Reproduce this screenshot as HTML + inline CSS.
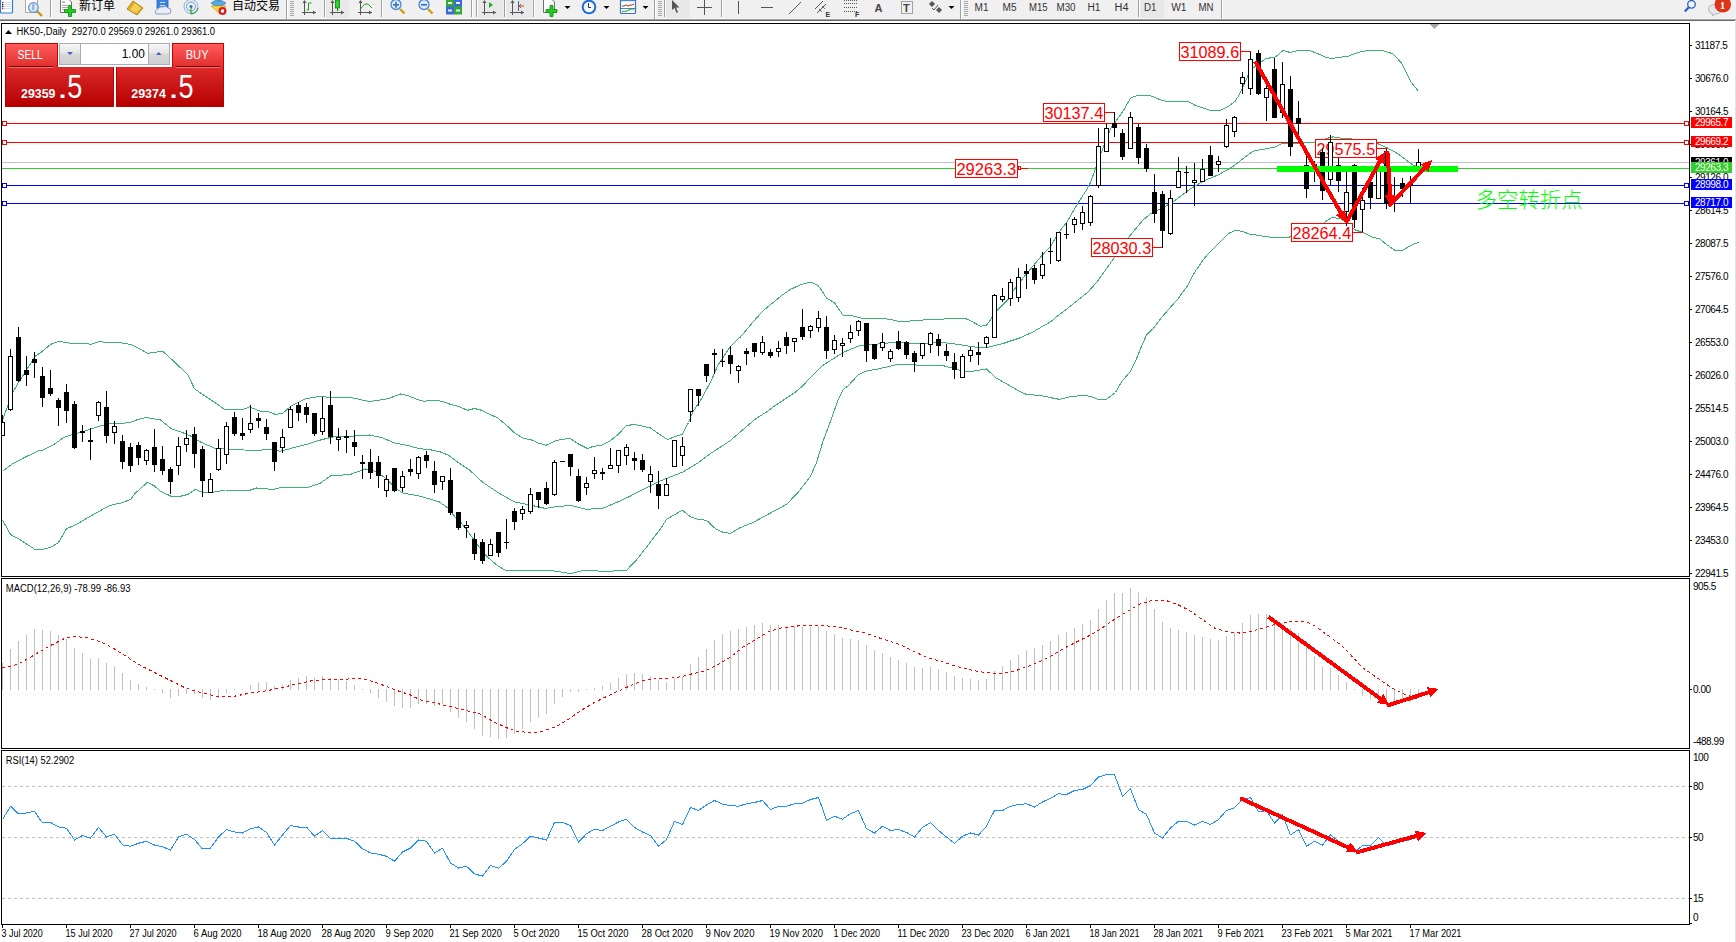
<!DOCTYPE html>
<html><head><meta charset="utf-8"><title>HK50 Daily</title>
<style>
html,body{margin:0;padding:0;background:#fff;}
body{width:1736px;height:942px;overflow:hidden;position:relative;}
svg text{white-space:pre;}
</style></head>
<body>
<svg width="1736" height="942" viewBox="0 0 1736 942" style="position:absolute;left:0;top:0">
<rect x="0" y="0" width="1736" height="19" fill="#f0f0f0"/>
<rect x="0" y="18" width="1736" height="1" fill="#f5f5f5"/>
<rect x="0" y="19" width="1736" height="1" fill="#a4a4a4"/>
<rect x="0" y="20" width="1735" height="1" fill="#6a6a6a"/>
<rect x="0" y="21" width="1736" height="921" fill="#ffffff"/>
<rect x="1735" y="20" width="1" height="922" fill="#e3e3e3"/>
<rect x="0.5" y="-1" width="12" height="14" fill="#fff" stroke="#3a78c8" stroke-width="1.2" rx="1"/>
<rect x="2" y="1.7999999999999998" width="1.4" height="1.4" fill="#e82020"/><rect x="4" y="2.1" width="7" height="0.8" fill="#c4d6f4"/>
<rect x="2" y="3.8000000000000003" width="1.4" height="1.4" fill="#202020"/><rect x="4" y="4.1000000000000005" width="7" height="0.8" fill="#c4d6f4"/>
<rect x="2" y="5.800000000000001" width="1.4" height="1.4" fill="#202020"/><rect x="4" y="6.1000000000000005" width="7" height="0.8" fill="#c4d6f4"/>
<rect x="2" y="7.800000000000001" width="1.4" height="1.4" fill="#e82020"/><rect x="4" y="8.1" width="7" height="0.8" fill="#c4d6f4"/>
<rect x="25.5" y="-1" width="12" height="13.5" fill="#fff" stroke="#b0a890" stroke-width="1"/>
<line x1="37.5" y1="11.5" x2="42" y2="16" stroke="#c89a10" stroke-width="2.4"/>
<circle cx="33.4" cy="7.5" r="4.8" fill="#dcecf8" stroke="#5a8ed8" stroke-width="1.2"/>
<rect x="32" y="4" width="2.5" height="6" fill="#a0b4c8"/>
<rect x="50" y="0" width="1" height="17" fill="#a0a0a0"/><rect x="51" y="0" width="1" height="17" fill="#ffffff"/>
<path d="M60.5,-1 h8 l3,3 v10.5 h-11 z" fill="#fff" stroke="#707070" stroke-width="1"/>
<rect x="62" y="1.5" width="3" height="1.2" fill="#909090"/><rect x="62" y="5" width="6" height="0.8" fill="#909090"/><rect x="62" y="7" width="6" height="0.8" fill="#909090"/><rect x="62" y="9" width="3" height="0.8" fill="#909090"/>
<path d="M68.5,5.5 h3 v4 h4 v3 h-4 v4 h-3 v-4 h-4 v-3 h4 z" fill="#22cc22" stroke="#0a8a0a" stroke-width="0.8"/>
<text x="79" y="10" font-size="12" fill="#000" font-family="'Noto Sans CJK SC', sans-serif">新订单</text>
<path d="M127,9 L133,1 L143,8 L137,15 Z" fill="#e0b020" stroke="#a07010" stroke-width="0.8"/>
<path d="M130,10 L135,3 L141,8 L136,13 Z" fill="#f4d050"/>
<rect x="157" y="-1" width="11" height="9" fill="#3b82e0" stroke="#2060b0" stroke-width="0.8"/>
<rect x="160" y="2" width="5" height="1" fill="#cfe0ff"/><rect x="160" y="5" width="5" height="1" fill="#cfe0ff"/>
<path d="M156,14 q-2,-4 2,-5 q1,-3 5,-2 q3,-2 5,1 q3,0 3,3 q0,3 -3,3 z" fill="#e8eef8" stroke="#7a8aa8" stroke-width="0.8"/>
<circle cx="191" cy="6.5" r="7" fill="none" stroke="#7aa6e0" stroke-width="0.9"/>
<circle cx="191" cy="6.5" r="4.5" fill="none" stroke="#5a8ed8" stroke-width="0.9"/>
<circle cx="191" cy="6.5" r="1.6" fill="#2a6ad0"/>
<path d="M191,6.5 L191,14 M191,14 Q197,13 198,8" fill="none" stroke="#30a030" stroke-width="1.2"/>
<path d="M211,3 q7,-6 15,0 q-2,3 -7.5,3 q-5.5,0 -7.5,-3 z" fill="#5aa8e0" stroke="#3070b0" stroke-width="0.6"/>
<rect x="217" y="-2" width="3" height="4" fill="#4a90d8"/>
<path d="M211,6 L226,6 L220,14 Z" fill="#f8d840" stroke="#c09010" stroke-width="0.6"/>
<circle cx="222.5" cy="11" r="4" fill="#d82020"/><rect x="221" y="9.5" width="3" height="3" fill="#fff"/>
<text x="232" y="10" font-size="12" fill="#000" font-family="'Noto Sans CJK SC', sans-serif">自动交易</text>
<rect x="286" y="0" width="1" height="19" fill="#a0a0a0"/><rect x="287" y="0" width="1" height="19" fill="#ffffff"/>
<rect x="290" y="1" width="4" height="1" fill="#a8a8a8"/>
<rect x="290" y="3" width="4" height="1" fill="#a8a8a8"/>
<rect x="290" y="5" width="4" height="1" fill="#a8a8a8"/>
<rect x="290" y="7" width="4" height="1" fill="#a8a8a8"/>
<rect x="290" y="9" width="4" height="1" fill="#a8a8a8"/>
<rect x="290" y="11" width="4" height="1" fill="#a8a8a8"/>
<rect x="290" y="13" width="4" height="1" fill="#a8a8a8"/>
<rect x="290" y="15" width="4" height="1" fill="#a8a8a8"/>
<rect x="304" y="1" width="1" height="14" fill="#555"/><rect x="302" y="12" width="14" height="1" fill="#555"/>
<polygon points="304.5,0 302.5,3 306.5,3" fill="#555"/><polygon points="316,12.5 313,10.5 313,14.5" fill="#555"/>
<path d="M306.5,10 h2 v-7 h3" fill="none" stroke="#20a020" stroke-width="1"/>
<rect x="324" y="0" width="1" height="17" fill="#a0a0a0"/><rect x="325" y="0" width="1" height="17" fill="#ffffff"/>
<rect x="326" y="0" width="23" height="18" fill="#e8e8e8"/>
<rect x="332" y="1" width="1" height="14" fill="#555"/><rect x="330" y="12" width="14" height="1" fill="#555"/>
<polygon points="332.5,0 330.5,3 334.5,3" fill="#555"/><polygon points="344,12.5 341,10.5 341,14.5" fill="#555"/>
<rect x="335.5" y="0" width="4" height="8" fill="#30d030" stroke="#108010" stroke-width="0.8"/><rect x="337" y="8" width="1" height="3" fill="#108010"/><rect x="337" y="-2" width="1" height="2" fill="#108010"/>
<rect x="360" y="1" width="1" height="14" fill="#555"/><rect x="358" y="12" width="14" height="1" fill="#555"/>
<polygon points="360.5,0 358.5,3 362.5,3" fill="#555"/><polygon points="372,12.5 369,10.5 369,14.5" fill="#555"/>
<path d="M360,10 Q365,1 369,5 L372,8" fill="none" stroke="#20a020" stroke-width="1"/>
<rect x="381" y="0" width="1" height="17" fill="#a0a0a0"/><rect x="382" y="0" width="1" height="17" fill="#ffffff"/>
<line x1="400" y1="9" x2="404.5" y2="13.5" stroke="#c8a010" stroke-width="2.4"/>
<circle cx="396" cy="4.5" r="5" fill="#dcecfa" stroke="#4a86d0" stroke-width="1.3"/>
<rect x="393" y="4" width="6" height="1.6" fill="#3a70c0"/>
<rect x="395.2" y="1.8" width="1.6" height="6" fill="#3a70c0"/>
<line x1="428" y1="9" x2="432.5" y2="13.5" stroke="#c8a010" stroke-width="2.4"/>
<circle cx="424" cy="4.5" r="5" fill="#dcecfa" stroke="#4a86d0" stroke-width="1.3"/>
<rect x="421" y="4" width="6" height="1.6" fill="#3a70c0"/>
<rect x="446" y="-1" width="8" height="8" fill="#34a834"/><rect x="448" y="2" width="4" height="2" fill="#e8f0e8"/>
<rect x="454" y="-1" width="8" height="8" fill="#3a6ad8"/><rect x="456" y="2" width="4" height="2" fill="#e8f0e8"/>
<rect x="446" y="6.5" width="8" height="8" fill="#3a6ad8"/><rect x="448" y="9.5" width="4" height="2" fill="#e8f0e8"/>
<rect x="454" y="6.5" width="8" height="8" fill="#34a834"/><rect x="456" y="9.5" width="4" height="2" fill="#e8f0e8"/>
<rect x="471" y="0" width="1" height="17" fill="#a0a0a0"/><rect x="472" y="0" width="1" height="17" fill="#ffffff"/>
<rect x="476" y="0" width="1" height="17" fill="#a0a0a0"/><rect x="477" y="0" width="1" height="17" fill="#ffffff"/>
<rect x="478" y="0" width="25" height="18" fill="#e8e8e8"/>
<rect x="484" y="1" width="1" height="14" fill="#555"/><rect x="482" y="12" width="14" height="1" fill="#555"/>
<polygon points="484.5,0 482.5,3 486.5,3" fill="#555"/><polygon points="496,12.5 493,10.5 493,14.5" fill="#555"/>
<polygon points="489,2 489,8 493,5" fill="#20b020"/>
<rect x="504" y="0" width="1" height="17" fill="#a0a0a0"/><rect x="505" y="0" width="1" height="17" fill="#ffffff"/>
<rect x="506" y="0" width="26" height="18" fill="#e8e8e8"/>
<rect x="512" y="1" width="1" height="14" fill="#555"/><rect x="510" y="12" width="14" height="1" fill="#555"/>
<polygon points="512.5,0 510.5,3 514.5,3" fill="#555"/><polygon points="524,12.5 521,10.5 521,14.5" fill="#555"/>
<rect x="518" y="1" width="1" height="10" fill="#2070c0"/><path d="M524,6 h-4 M521,4 l-2,2 l2,2" stroke="#d04010" stroke-width="1" fill="none"/>
<rect x="533" y="0" width="1" height="17" fill="#a0a0a0"/><rect x="534" y="0" width="1" height="17" fill="#ffffff"/>
<path d="M543.5,-1 h8 l3,3 v10.5 h-11 z" fill="#fff" stroke="#707070" stroke-width="1"/>
<path d="M550,5.5 h3 v4 h4 v3 h-4 v4 h-3 v-4 h-4 v-3 h4 z" fill="#22cc22" stroke="#0a8a0a" stroke-width="0.8"/>
<polygon points="564.5,6 570.5,6 567.5,9" fill="#000"/>
<circle cx="589" cy="7" r="7.3" fill="#1e6fd8"/><circle cx="589" cy="7" r="5.3" fill="#f6f8fc"/><path d="M588.5,3 v4.5 h2.5" stroke="#333" stroke-width="1" fill="none"/>
<polygon points="603.5,6 609.5,6 606.5,9" fill="#000"/>
<rect x="620.5" y="-1.5" width="15" height="15" fill="#fff" stroke="#3a70c8" stroke-width="1.2" rx="1"/><rect x="621" y="-1" width="14" height="2.2" fill="#4a86d8"/>
<path d="M622,6 l2,0 l2,-1 l2,1 l2,-1 l2,0 l2,-1" stroke="#b02a10" stroke-width="1" fill="none"/><rect x="621" y="8" width="14" height="0.9" fill="#3a70c8"/><path d="M622,12 l2,-1 l2,0.5 l2,-1.5 l2,0 l2,-1.5 l2,2" stroke="#18a018" stroke-width="1" fill="none"/>
<polygon points="642.5,6 648.5,6 645.5,9" fill="#000"/>
<rect x="654" y="0" width="1" height="19" fill="#a0a0a0"/><rect x="655" y="0" width="1" height="19" fill="#ffffff"/>
<rect x="658" y="1" width="4" height="1" fill="#a8a8a8"/>
<rect x="658" y="3" width="4" height="1" fill="#a8a8a8"/>
<rect x="658" y="5" width="4" height="1" fill="#a8a8a8"/>
<rect x="658" y="7" width="4" height="1" fill="#a8a8a8"/>
<rect x="658" y="9" width="4" height="1" fill="#a8a8a8"/>
<rect x="658" y="11" width="4" height="1" fill="#a8a8a8"/>
<rect x="658" y="13" width="4" height="1" fill="#a8a8a8"/>
<rect x="658" y="15" width="4" height="1" fill="#a8a8a8"/>
<rect x="664" y="0" width="1" height="17" fill="#a0a0a0"/><rect x="665" y="0" width="1" height="17" fill="#ffffff"/>
<rect x="666" y="0" width="24" height="18" fill="#e8e8e8"/>
<path d="M672,0 L672,10 L674.5,8 L676.5,13 L678,12.3 L676,7.5 L679.5,7.5 Z" fill="#555"/>
<rect x="697" y="7" width="15" height="1" fill="#555"/><rect x="704" y="0" width="1" height="15" fill="#555"/>
<rect x="721" y="0" width="1" height="17" fill="#a0a0a0"/><rect x="722" y="0" width="1" height="17" fill="#ffffff"/>
<rect x="738" y="1" width="1" height="13" fill="#555"/>
<rect x="761" y="7" width="12" height="1" fill="#555"/>
<line x1="789" y1="14" x2="801" y2="2" stroke="#555" stroke-width="1"/>
<line x1="815" y1="9" x2="823" y2="1" stroke="#555" stroke-width="1"/><line x1="817" y1="13" x2="826" y2="4" stroke="#555" stroke-width="1"/><line x1="819" y1="9" x2="822" y2="12" stroke="#555" stroke-width="0.8"/><line x1="822" y1="6" x2="825" y2="9" stroke="#555" stroke-width="0.8"/>
<text x="825.5" y="16.5" font-size="7" font-weight="bold" fill="#333" font-family="'Liberation Sans', sans-serif">E</text>
<line x1="844" y1="0.5" x2="857" y2="0.5" stroke="#555" stroke-width="1" stroke-dasharray="1,1"/>
<line x1="844" y1="3.5" x2="857" y2="3.5" stroke="#555" stroke-width="1" stroke-dasharray="1,1"/>
<line x1="844" y1="7.5" x2="857" y2="7.5" stroke="#555" stroke-width="1" stroke-dasharray="1,1"/>
<line x1="844" y1="11.5" x2="857" y2="11.5" stroke="#555" stroke-width="1" stroke-dasharray="1,1"/>
<text x="855" y="16.5" font-size="7" font-weight="bold" fill="#333" font-family="'Liberation Sans', sans-serif">F</text>
<text x="874.5" y="12" font-size="11" font-weight="bold" fill="#444" font-family="'Liberation Sans', sans-serif">A</text>
<rect x="901.5" y="1.5" width="11" height="12" fill="none" stroke="#555" stroke-width="1" stroke-dasharray="1,1"/>
<text x="903" y="11.5" font-size="11" font-weight="bold" fill="#444" font-family="'Liberation Sans', sans-serif">T</text>
<polygon points="929,4 932,1 935,4 932,7" fill="#555"/><polygon points="936,10 939,7 942,10 939,13" fill="#555"/><path d="M932,8 l2,2 l4,-5" stroke="#555" stroke-width="1" fill="none"/>
<polygon points="948.5,6 954.5,6 951.5,9" fill="#000"/>
<rect x="960" y="0" width="1" height="19" fill="#a0a0a0"/><rect x="961" y="0" width="1" height="19" fill="#ffffff"/>
<rect x="964" y="1" width="4" height="1" fill="#a8a8a8"/>
<rect x="964" y="3" width="4" height="1" fill="#a8a8a8"/>
<rect x="964" y="5" width="4" height="1" fill="#a8a8a8"/>
<rect x="964" y="7" width="4" height="1" fill="#a8a8a8"/>
<rect x="964" y="9" width="4" height="1" fill="#a8a8a8"/>
<rect x="964" y="11" width="4" height="1" fill="#a8a8a8"/>
<rect x="964" y="13" width="4" height="1" fill="#a8a8a8"/>
<rect x="964" y="15" width="4" height="1" fill="#a8a8a8"/>
<text x="974.5" y="11" font-size="10" fill="#333" textLength="14" lengthAdjust="spacingAndGlyphs" font-family="'Liberation Sans', sans-serif">M1</text>
<text x="1002.5" y="11" font-size="10" fill="#333" textLength="14" lengthAdjust="spacingAndGlyphs" font-family="'Liberation Sans', sans-serif">M5</text>
<text x="1029.0" y="11" font-size="10" fill="#333" textLength="18.5" lengthAdjust="spacingAndGlyphs" font-family="'Liberation Sans', sans-serif">M15</text>
<text x="1056.5" y="11" font-size="10" fill="#333" textLength="19" lengthAdjust="spacingAndGlyphs" font-family="'Liberation Sans', sans-serif">M30</text>
<text x="1087.5" y="11" font-size="10" fill="#333" textLength="13" lengthAdjust="spacingAndGlyphs" font-family="'Liberation Sans', sans-serif">H1</text>
<text x="1114.5" y="11" font-size="10" fill="#333" textLength="14" lengthAdjust="spacingAndGlyphs" font-family="'Liberation Sans', sans-serif">H4</text>
<text x="1171.2" y="11" font-size="10" fill="#333" textLength="15.3" lengthAdjust="spacingAndGlyphs" font-family="'Liberation Sans', sans-serif">W1</text>
<text x="1198.5" y="11" font-size="10" fill="#333" textLength="15" lengthAdjust="spacingAndGlyphs" font-family="'Liberation Sans', sans-serif">MN</text>
<rect x="1138" y="0" width="1" height="17" fill="#a0a0a0"/><rect x="1139" y="0" width="1" height="17" fill="#ffffff"/>
<rect x="1140" y="0" width="24" height="18" fill="#e8e8e8"/>
<text x="1144" y="11" font-size="10" fill="#333" textLength="12.5" lengthAdjust="spacingAndGlyphs" font-family="'Liberation Sans', sans-serif">D1</text>
<rect x="1221" y="0" width="1" height="19" fill="#a0a0a0"/><rect x="1222" y="0" width="1" height="19" fill="#ffffff"/>
<circle cx="1691.5" cy="4.3" r="3.8" fill="#f4f6fc" stroke="#2a5ed0" stroke-width="1.3"/><line x1="1688.8" y1="7.3" x2="1684.8" y2="11.6" stroke="#2a5ed0" stroke-width="2.2"/>
<path d="M1708.5,9.5 q0,-5 6.5,-5 q6.5,0 6.5,5 q0,4.5 -6.5,4.5 l-2.5,2 l0,-2.2 q-4,-1 -4,-4.3 z" fill="#e6e6ec" stroke="#a8a8a8" stroke-width="0.8"/>
<circle cx="1722.8" cy="4.4" r="8.2" fill="#de3418"/>
<text x="1722.6" y="9.2" font-size="11" font-weight="bold" fill="#fff" text-anchor="middle" font-family="'Liberation Serif', serif">1</text>
<rect x="1" y="23" width="1689" height="1" fill="#000"/>
<rect x="1" y="576" width="1689" height="1" fill="#000"/>
<rect x="1" y="23" width="1" height="554" fill="#000"/>
<rect x="1689" y="23" width="1" height="554" fill="#000"/>
<rect x="1" y="578" width="1689" height="1" fill="#000"/>
<rect x="1" y="748" width="1689" height="1" fill="#000"/>
<rect x="1" y="578" width="1" height="171" fill="#000"/>
<rect x="1689" y="578" width="1" height="171" fill="#000"/>
<rect x="1" y="750" width="1689" height="1" fill="#000"/>
<rect x="1" y="924" width="1689" height="1" fill="#000"/>
<rect x="1" y="750" width="1" height="175" fill="#000"/>
<rect x="1689" y="750" width="1" height="175" fill="#000"/>
<svg x="2" y="24" width="1687" height="552" overflow="hidden"><g transform="translate(-2,-24)">
<rect x="2" y="123" width="1687" height="1" fill="#ff0000"/>
<rect x="2" y="142" width="1687" height="1" fill="#ff0000"/>
<rect x="2" y="162" width="1687" height="1" fill="#c0c0c0"/>
<rect x="2" y="168" width="1687" height="1" fill="#32cd32"/>
<rect x="2" y="185" width="1687" height="1" fill="#0000ff"/>
<rect x="2" y="203" width="1687" height="1" fill="#0000ff"/>
<rect x="2" y="121" width="5" height="5" fill="#ff0000"/>
<rect x="3" y="122" width="3" height="3" fill="#fff"/>
<rect x="1684" y="121" width="5" height="5" fill="#ff0000"/>
<rect x="1685" y="122" width="3" height="3" fill="#fff"/>
<rect x="2" y="140" width="5" height="5" fill="#ff0000"/>
<rect x="3" y="141" width="3" height="3" fill="#fff"/>
<rect x="1684" y="140" width="5" height="5" fill="#ff0000"/>
<rect x="1685" y="141" width="3" height="3" fill="#fff"/>
<rect x="2" y="183" width="5" height="5" fill="#0000ff"/>
<rect x="3" y="184" width="3" height="3" fill="#fff"/>
<rect x="1684" y="183" width="5" height="5" fill="#0000ff"/>
<rect x="1685" y="184" width="3" height="3" fill="#fff"/>
<rect x="2" y="201" width="5" height="5" fill="#0000ff"/>
<rect x="3" y="202" width="3" height="3" fill="#fff"/>
<rect x="1684" y="201" width="5" height="5" fill="#0000ff"/>
<rect x="1685" y="202" width="3" height="3" fill="#fff"/>
<polyline points="2.50,420.00 8.00,405.00 13.00,391.90 19.25,381.25 26.50,370.00 35.50,356.00 41.50,352.00 50.50,344.40 58.00,341.50 63.00,342.00 71.50,343.50 88.00,343.75 90.50,344.40 99.50,341.50 104.50,342.25 119.50,342.50 130.50,344.40 138.00,348.00 148.00,353.50 151.50,352.50 163.00,351.50 174.50,362.00 188.00,375.00 194.50,388.75 200.50,393.00 213.00,401.25 225.50,410.00 243.00,409.40 249.50,406.90 259.50,411.00 268.00,411.50 275.50,414.40 283.00,413.10 291.50,405.60 305.50,398.75 320.50,396.25 333.00,398.00 350.50,397.50 369.50,401.50 388.00,398.75 400.50,394.00 408.00,395.60 419.25,400.25 424.25,401.25 430.50,400.25 438.00,400.60 443.00,401.50 450.50,404.40 458.00,406.25 467.50,410.25 474.50,408.50 480.50,410.00 488.00,413.50 498.00,418.00 509.50,428.00 515.50,433.75 523.00,438.00 531.50,440.00 538.00,443.00 546.10,445.25 554.50,441.25 561.50,439.40 570.50,438.50 578.00,443.75 587.50,448.50 593.00,446.50 601.50,445.25 609.50,441.25 617.50,435.00 626.50,425.60 634.50,424.40 650.50,428.00 659.50,434.40 667.50,439.40 673.00,437.50 682.50,434.00 688.50,422.50 692.50,412.50 701.50,398.75 711.50,380.00 718.00,365.00 730.50,346.25 740.50,336.90 750.50,325.00 759.25,315.00 765.50,308.75 775.50,300.60 781.50,295.60 790.50,289.40 799.25,285.25 808.50,282.50 811.50,282.25 818.00,285.60 821.50,290.25 826.50,298.00 834.50,302.75 843.00,315.25 853.00,316.00 865.50,319.00 878.00,318.00 890.50,319.40 898.00,321.25 910.50,321.00 926.50,319.75 950.50,318.75 964.50,318.50 968.00,319.40 980.50,326.25 986.50,325.25 993.00,316.25 998.00,309.40 1008.00,299.40 1013.00,291.00 1025.50,275.00 1038.00,260.00 1050.50,246.25 1060.50,230.00 1066.50,222.75 1078.00,203.00 1086.50,190.00 1090.50,182.50 1101.50,151.90 1110.50,128.75 1123.00,111.25 1130.50,98.10 1138.00,95.25 1149.50,95.25 1161.50,100.25 1168.00,101.50 1188.00,101.25 1195.50,105.60 1210.50,110.60 1219.50,110.60 1228.00,106.60 1235.50,100.90 1240.50,92.50 1245.50,81.25 1250.50,70.00 1255.50,66.25 1265.50,58.75 1275.50,56.90 1283.00,50.60 1290.50,52.50 1298.00,50.40 1309.50,50.60 1316.50,53.10 1325.50,57.25 1331.50,58.50 1340.50,57.25 1348.00,56.25 1358.00,52.50 1368.00,50.25 1381.50,50.25 1393.00,53.75 1401.50,63.10 1410.50,81.25 1418.50,91.50" fill="none" stroke="#3cb371" stroke-width="1" shape-rendering="crispEdges"/>
<polyline points="2.50,471.25 11.50,464.40 25.50,457.00 38.00,451.00 43.00,450.00 53.00,445.00 63.00,438.00 69.25,435.40 78.00,433.00 88.00,430.00 101.50,425.60 110.50,423.75 125.50,423.00 131.50,422.00 138.00,419.40 146.50,417.50 160.50,420.00 171.50,428.75 183.00,432.75 190.50,436.00 200.50,442.00 214.25,448.00 231.50,449.40 244.25,450.00 256.50,450.40 269.50,449.40 280.50,451.25 290.50,448.50 306.50,444.40 320.50,440.00 333.00,436.90 350.50,436.25 369.50,435.00 381.50,437.50 394.50,443.00 408.00,445.60 419.25,448.50 431.50,450.00 440.50,452.00 448.00,455.00 456.50,461.25 469.50,470.00 483.00,482.50 498.00,492.50 514.25,501.90 526.50,504.40 539.50,507.00 545.50,508.50 554.50,507.00 570.50,505.25 586.50,509.40 603.50,508.00 616.50,502.50 628.50,497.00 639.50,491.25 658.00,481.90 683.00,471.90 698.00,463.00 710.50,453.50 729.50,441.25 745.50,427.50 755.50,419.00 766.50,412.00 774.50,406.00 785.50,398.75 795.50,392.00 801.50,387.00 813.00,375.00 821.50,366.25 834.50,358.00 843.00,352.50 858.00,346.25 865.50,345.00 878.00,344.00 896.50,342.25 921.50,343.75 940.50,342.25 958.00,344.40 978.00,347.50 989.50,347.00 1004.50,343.00 1019.50,338.00 1033.00,332.00 1040.50,327.50 1050.50,321.90 1058.00,315.60 1065.50,310.00 1076.50,301.25 1088.00,292.00 1096.50,282.50 1105.50,270.00 1114.50,257.50 1129.50,236.25 1143.00,220.00 1150.50,213.75 1160.50,208.75 1165.50,206.25 1175.50,200.00 1190.50,188.75 1203.00,181.25 1218.00,175.00 1231.50,167.50 1243.00,158.75 1253.00,151.25 1260.50,149.75 1274.50,147.25 1283.00,143.00 1293.00,144.00 1301.50,143.00 1313.00,142.75 1326.50,138.50 1333.00,136.90 1343.00,138.50 1360.50,139.50 1378.00,143.75 1386.50,147.50 1398.00,153.75 1405.50,159.40 1413.00,165.00 1418.50,166.25" fill="none" stroke="#3cb371" stroke-width="1" shape-rendering="crispEdges"/>
<polyline points="2.50,520.00 10.50,534.40 20.50,540.00 34.25,549.00 43.00,549.40 51.50,546.90 58.50,542.50 66.50,528.75 76.50,524.40 88.00,517.50 100.50,510.60 109.50,505.60 123.00,502.50 130.50,499.40 135.50,493.00 147.50,482.25 154.50,486.00 160.50,491.25 171.10,496.25 179.50,496.50 188.00,494.40 195.50,489.40 203.00,492.50 208.00,493.00 225.50,490.00 250.50,490.00 256.50,488.00 273.00,489.40 281.50,487.50 306.50,488.00 320.50,483.00 330.50,476.00 350.50,474.40 365.50,469.00 375.50,471.25 384.50,477.50 398.00,490.00 403.00,493.00 420.50,496.25 439.50,502.00 448.00,508.00 455.50,517.50 461.50,523.00 470.50,535.00 479.50,547.50 486.50,556.25 498.00,566.00 506.50,571.00 526.50,570.60 551.50,570.60 570.50,573.50 583.00,570.60 608.00,571.25 626.50,570.40 637.50,558.75 654.25,537.00 660.50,528.75 666.50,519.40 673.00,515.60 682.50,510.25 690.50,516.90 698.00,519.40 706.50,520.25 715.50,528.75 723.00,532.25 730.50,533.50 739.50,528.00 753.00,522.50 770.50,513.00 786.50,504.40 798.00,492.50 810.50,476.25 816.50,462.50 823.00,441.25 830.50,421.25 838.00,400.00 843.00,389.75 848.00,386.00 858.00,375.00 865.50,371.25 878.00,369.00 898.00,364.40 909.50,364.40 925.50,366.00 943.00,365.60 957.50,369.40 965.50,372.00 974.50,371.00 986.50,369.00 995.50,377.50 1020.50,391.90 1026.50,394.40 1040.50,395.60 1048.00,397.10 1059.50,399.40 1071.50,396.50 1083.00,395.40 1090.50,396.25 1098.00,399.40 1106.50,399.40 1115.50,392.50 1121.50,381.90 1130.50,371.25 1135.50,361.25 1140.50,348.75 1146.50,335.00 1153.00,328.75 1161.50,317.50 1178.00,298.75 1188.00,285.00 1194.50,272.50 1200.50,263.75 1205.50,256.90 1215.50,246.25 1228.00,233.75 1235.50,230.25 1241.50,231.25 1250.50,234.40 1260.50,235.60 1266.50,236.90 1285.50,237.75 1300.50,235.00 1315.50,228.00 1324.50,222.50 1331.50,217.50 1340.50,218.50 1348.00,223.75 1355.50,230.00 1363.00,232.50 1373.00,237.50 1379.50,238.75 1385.50,243.75 1394.50,250.00 1403.00,250.00 1410.50,245.60 1418.50,242.25" fill="none" stroke="#3cb371" stroke-width="1" shape-rendering="crispEdges"/>
<rect x="1241" y="51" width="10" height="1" fill="#ff0000"/>
<rect x="1105" y="112" width="9" height="1" fill="#ff0000"/>
<rect x="1153" y="247" width="10" height="1" fill="#ff0000"/>
<rect x="1353" y="232" width="10" height="1" fill="#ff0000"/>
<rect x="1377" y="148" width="10" height="1" fill="#ff0000"/>
<rect x="1018" y="166" width="3" height="4" fill="#ff0000"/>
<rect x="1019" y="167" width="1" height="2" fill="#fff"/>
<rect x="1021" y="168" width="7" height="1" fill="#ff0000"/>
<rect x="1179.5" y="42.5" width="61" height="18" fill="#fff" stroke="#ff0000" stroke-width="1" shape-rendering="crispEdges"/>
<text x="1180.4" y="57.6" font-size="16.5" fill="#ff0000" textLength="58.8" lengthAdjust="spacingAndGlyphs" font-family="'Liberation Sans', 'Noto Sans CJK SC', sans-serif">31089.6</text>
<rect x="1043.5" y="103.5" width="61" height="18" fill="#fff" stroke="#ff0000" stroke-width="1" shape-rendering="crispEdges"/>
<text x="1044.4" y="118.6" font-size="16.5" fill="#ff0000" textLength="58.8" lengthAdjust="spacingAndGlyphs" font-family="'Liberation Sans', 'Noto Sans CJK SC', sans-serif">30137.4</text>
<rect x="955.5" y="159.5" width="62" height="18" fill="#fff" stroke="#ff0000" stroke-width="1" shape-rendering="crispEdges"/>
<text x="956.4" y="174.6" font-size="16.5" fill="#ff0000" textLength="59.8" lengthAdjust="spacingAndGlyphs" font-family="'Liberation Sans', 'Noto Sans CJK SC', sans-serif">29263.3</text>
<rect x="1091.5" y="238.5" width="61" height="18" fill="#fff" stroke="#ff0000" stroke-width="1" shape-rendering="crispEdges"/>
<text x="1092.4" y="253.6" font-size="16.5" fill="#ff0000" textLength="58.8" lengthAdjust="spacingAndGlyphs" font-family="'Liberation Sans', 'Noto Sans CJK SC', sans-serif">28030.3</text>
<rect x="1291.5" y="223.5" width="61" height="18" fill="#fff" stroke="#ff0000" stroke-width="1" shape-rendering="crispEdges"/>
<text x="1292.4" y="238.6" font-size="16.5" fill="#ff0000" textLength="58.8" lengthAdjust="spacingAndGlyphs" font-family="'Liberation Sans', 'Noto Sans CJK SC', sans-serif">28264.4</text>
<rect x="1315.5" y="139.5" width="61" height="18" fill="#fff" stroke="#ff0000" stroke-width="1" shape-rendering="crispEdges"/>
<text x="1316.4" y="154.6" font-size="16.5" fill="#ff0000" textLength="58.8" lengthAdjust="spacingAndGlyphs" font-family="'Liberation Sans', 'Noto Sans CJK SC', sans-serif">29575.5</text>
<rect x="2" y="415" width="1" height="21" fill="#000"/>
<rect x="0" y="422" width="5" height="14" fill="#000"/>
<rect x="1" y="423" width="3" height="12" fill="#fff"/>
<rect x="10" y="349" width="1" height="62" fill="#000"/>
<rect x="8" y="356" width="5" height="54" fill="#000"/>
<rect x="9" y="357" width="3" height="52" fill="#fff"/>
<rect x="18" y="327" width="1" height="55" fill="#000"/>
<rect x="16" y="337" width="5" height="44" fill="#000"/>
<rect x="26" y="356" width="1" height="30" fill="#000"/>
<rect x="24" y="370" width="5" height="5" fill="#000"/>
<rect x="34" y="352" width="1" height="26" fill="#000"/>
<rect x="32" y="359" width="5" height="4" fill="#000"/>
<rect x="42" y="367" width="1" height="40" fill="#000"/>
<rect x="40" y="376" width="5" height="22" fill="#000"/>
<rect x="50" y="370" width="1" height="26" fill="#000"/>
<rect x="48" y="388" width="5" height="6" fill="#000"/>
<rect x="58" y="398" width="1" height="28" fill="#000"/>
<rect x="56" y="400" width="5" height="8" fill="#000"/>
<rect x="66" y="384" width="1" height="39" fill="#000"/>
<rect x="64" y="392" width="5" height="19" fill="#000"/>
<rect x="74" y="401" width="1" height="48" fill="#000"/>
<rect x="72" y="404" width="5" height="44" fill="#000"/>
<rect x="82" y="425" width="1" height="17" fill="#000"/>
<rect x="80" y="431" width="5" height="2" fill="#000"/>
<rect x="90" y="428" width="1" height="32" fill="#000"/>
<rect x="88" y="440" width="5" height="2" fill="#000"/>
<rect x="98" y="401" width="1" height="20" fill="#000"/>
<rect x="96" y="402" width="5" height="14" fill="#000"/>
<rect x="97" y="403" width="3" height="12" fill="#fff"/>
<rect x="106" y="391" width="1" height="52" fill="#000"/>
<rect x="104" y="407" width="5" height="29" fill="#000"/>
<rect x="114" y="421" width="1" height="23" fill="#000"/>
<rect x="112" y="426" width="5" height="7" fill="#000"/>
<rect x="113" y="427" width="3" height="5" fill="#fff"/>
<rect x="122" y="435" width="1" height="34" fill="#000"/>
<rect x="120" y="441" width="5" height="21" fill="#000"/>
<rect x="130" y="443" width="1" height="29" fill="#000"/>
<rect x="128" y="447" width="5" height="19" fill="#000"/>
<rect x="138" y="442" width="1" height="23" fill="#000"/>
<rect x="136" y="445" width="5" height="13" fill="#000"/>
<rect x="146" y="449" width="1" height="16" fill="#000"/>
<rect x="144" y="450" width="5" height="11" fill="#000"/>
<rect x="145" y="451" width="3" height="9" fill="#fff"/>
<rect x="154" y="429" width="1" height="43" fill="#000"/>
<rect x="152" y="447" width="5" height="18" fill="#000"/>
<rect x="162" y="446" width="1" height="29" fill="#000"/>
<rect x="160" y="459" width="5" height="12" fill="#000"/>
<rect x="170" y="467" width="1" height="27" fill="#000"/>
<rect x="168" y="469" width="5" height="13" fill="#000"/>
<rect x="178" y="437" width="1" height="38" fill="#000"/>
<rect x="176" y="446" width="5" height="20" fill="#000"/>
<rect x="177" y="447" width="3" height="18" fill="#fff"/>
<rect x="186" y="430" width="1" height="22" fill="#000"/>
<rect x="184" y="438" width="5" height="7" fill="#000"/>
<rect x="185" y="439" width="3" height="5" fill="#fff"/>
<rect x="194" y="427" width="1" height="41" fill="#000"/>
<rect x="192" y="434" width="5" height="20" fill="#000"/>
<rect x="202" y="446" width="1" height="51" fill="#000"/>
<rect x="200" y="449" width="5" height="32" fill="#000"/>
<rect x="210" y="473" width="1" height="20" fill="#000"/>
<rect x="208" y="479" width="5" height="14" fill="#000"/>
<rect x="209" y="480" width="3" height="12" fill="#fff"/>
<rect x="218" y="439" width="1" height="32" fill="#000"/>
<rect x="216" y="448" width="5" height="22" fill="#000"/>
<rect x="217" y="449" width="3" height="20" fill="#fff"/>
<rect x="226" y="422" width="1" height="42" fill="#000"/>
<rect x="224" y="426" width="5" height="29" fill="#000"/>
<rect x="225" y="427" width="3" height="27" fill="#fff"/>
<rect x="234" y="412" width="1" height="24" fill="#000"/>
<rect x="232" y="417" width="5" height="17" fill="#000"/>
<rect x="242" y="418" width="1" height="22" fill="#000"/>
<rect x="240" y="433" width="5" height="3" fill="#000"/>
<rect x="250" y="405" width="1" height="28" fill="#000"/>
<rect x="248" y="423" width="5" height="7" fill="#000"/>
<rect x="249" y="424" width="3" height="5" fill="#fff"/>
<rect x="258" y="413" width="1" height="15" fill="#000"/>
<rect x="256" y="418" width="5" height="3" fill="#000"/>
<rect x="266" y="419" width="1" height="21" fill="#000"/>
<rect x="264" y="427" width="5" height="7" fill="#000"/>
<rect x="274" y="442" width="1" height="29" fill="#000"/>
<rect x="272" y="442" width="5" height="20" fill="#000"/>
<rect x="282" y="429" width="1" height="24" fill="#000"/>
<rect x="280" y="437" width="5" height="11" fill="#000"/>
<rect x="281" y="438" width="3" height="9" fill="#fff"/>
<rect x="290" y="406" width="1" height="22" fill="#000"/>
<rect x="288" y="409" width="5" height="19" fill="#000"/>
<rect x="289" y="410" width="3" height="17" fill="#fff"/>
<rect x="298" y="402" width="1" height="19" fill="#000"/>
<rect x="296" y="405" width="5" height="8" fill="#000"/>
<rect x="306" y="403" width="1" height="20" fill="#000"/>
<rect x="304" y="407" width="5" height="8" fill="#000"/>
<rect x="314" y="413" width="1" height="23" fill="#000"/>
<rect x="312" y="413" width="5" height="21" fill="#000"/>
<rect x="322" y="397" width="1" height="38" fill="#000"/>
<rect x="320" y="418" width="5" height="14" fill="#000"/>
<rect x="321" y="419" width="3" height="12" fill="#fff"/>
<rect x="330" y="391" width="1" height="53" fill="#000"/>
<rect x="328" y="405" width="5" height="32" fill="#000"/>
<rect x="338" y="428" width="1" height="23" fill="#000"/>
<rect x="336" y="437" width="5" height="3" fill="#000"/>
<rect x="337" y="438" width="3" height="1" fill="#fff"/>
<rect x="346" y="430" width="1" height="23" fill="#000"/>
<rect x="344" y="436" width="5" height="2" fill="#000"/>
<rect x="354" y="430" width="1" height="26" fill="#000"/>
<rect x="352" y="442" width="5" height="5" fill="#000"/>
<rect x="362" y="455" width="1" height="24" fill="#000"/>
<rect x="360" y="462" width="5" height="2" fill="#000"/>
<rect x="370" y="449" width="1" height="30" fill="#000"/>
<rect x="368" y="462" width="5" height="11" fill="#000"/>
<rect x="378" y="456" width="1" height="32" fill="#000"/>
<rect x="376" y="462" width="5" height="14" fill="#000"/>
<rect x="386" y="475" width="1" height="22" fill="#000"/>
<rect x="384" y="479" width="5" height="12" fill="#000"/>
<rect x="385" y="480" width="3" height="10" fill="#fff"/>
<rect x="394" y="468" width="1" height="24" fill="#000"/>
<rect x="392" y="468" width="5" height="23" fill="#000"/>
<rect x="402" y="471" width="1" height="21" fill="#000"/>
<rect x="400" y="476" width="5" height="12" fill="#000"/>
<rect x="401" y="477" width="3" height="10" fill="#fff"/>
<rect x="410" y="459" width="1" height="17" fill="#000"/>
<rect x="408" y="469" width="5" height="3" fill="#000"/>
<rect x="418" y="456" width="1" height="23" fill="#000"/>
<rect x="416" y="457" width="5" height="17" fill="#000"/>
<rect x="417" y="458" width="3" height="15" fill="#fff"/>
<rect x="426" y="451" width="1" height="17" fill="#000"/>
<rect x="424" y="455" width="5" height="6" fill="#000"/>
<rect x="434" y="461" width="1" height="32" fill="#000"/>
<rect x="432" y="471" width="5" height="14" fill="#000"/>
<rect x="442" y="476" width="1" height="14" fill="#000"/>
<rect x="440" y="476" width="5" height="6" fill="#000"/>
<rect x="441" y="477" width="3" height="4" fill="#fff"/>
<rect x="450" y="468" width="1" height="47" fill="#000"/>
<rect x="448" y="480" width="5" height="33" fill="#000"/>
<rect x="458" y="512" width="1" height="18" fill="#000"/>
<rect x="456" y="512" width="5" height="16" fill="#000"/>
<rect x="466" y="521" width="1" height="17" fill="#000"/>
<rect x="464" y="525" width="5" height="3" fill="#000"/>
<rect x="465" y="526" width="3" height="1" fill="#fff"/>
<rect x="474" y="533" width="1" height="27" fill="#000"/>
<rect x="472" y="539" width="5" height="15" fill="#000"/>
<rect x="482" y="539" width="1" height="25" fill="#000"/>
<rect x="480" y="542" width="5" height="19" fill="#000"/>
<rect x="490" y="539" width="1" height="17" fill="#000"/>
<rect x="488" y="544" width="5" height="12" fill="#000"/>
<rect x="489" y="545" width="3" height="10" fill="#fff"/>
<rect x="498" y="532" width="1" height="25" fill="#000"/>
<rect x="496" y="532" width="5" height="21" fill="#000"/>
<rect x="506" y="519" width="1" height="30" fill="#000"/>
<rect x="504" y="542" width="5" height="1" fill="#000"/>
<rect x="514" y="508" width="1" height="22" fill="#000"/>
<rect x="512" y="511" width="5" height="11" fill="#000"/>
<rect x="522" y="506" width="1" height="14" fill="#000"/>
<rect x="520" y="509" width="5" height="5" fill="#000"/>
<rect x="521" y="510" width="3" height="3" fill="#fff"/>
<rect x="530" y="488" width="1" height="26" fill="#000"/>
<rect x="528" y="494" width="5" height="18" fill="#000"/>
<rect x="529" y="495" width="3" height="16" fill="#fff"/>
<rect x="538" y="492" width="1" height="16" fill="#000"/>
<rect x="536" y="492" width="5" height="8" fill="#000"/>
<rect x="546" y="482" width="1" height="23" fill="#000"/>
<rect x="544" y="488" width="5" height="16" fill="#000"/>
<rect x="554" y="460" width="1" height="36" fill="#000"/>
<rect x="552" y="462" width="5" height="33" fill="#000"/>
<rect x="553" y="463" width="3" height="31" fill="#fff"/>
<rect x="562" y="461" width="1" height="1" fill="#000"/>
<rect x="560" y="461" width="5" height="1" fill="#000"/>
<rect x="570" y="454" width="1" height="22" fill="#000"/>
<rect x="568" y="454" width="5" height="13" fill="#000"/>
<rect x="578" y="469" width="1" height="33" fill="#000"/>
<rect x="576" y="476" width="5" height="25" fill="#000"/>
<rect x="586" y="477" width="1" height="18" fill="#000"/>
<rect x="584" y="483" width="5" height="5" fill="#000"/>
<rect x="585" y="484" width="3" height="3" fill="#fff"/>
<rect x="594" y="457" width="1" height="22" fill="#000"/>
<rect x="592" y="470" width="5" height="4" fill="#000"/>
<rect x="593" y="471" width="3" height="2" fill="#fff"/>
<rect x="602" y="468" width="1" height="12" fill="#000"/>
<rect x="600" y="472" width="5" height="2" fill="#000"/>
<rect x="610" y="448" width="1" height="20" fill="#000"/>
<rect x="608" y="465" width="5" height="4" fill="#000"/>
<rect x="609" y="466" width="3" height="2" fill="#fff"/>
<rect x="618" y="450" width="1" height="23" fill="#000"/>
<rect x="616" y="450" width="5" height="16" fill="#000"/>
<rect x="617" y="451" width="3" height="14" fill="#fff"/>
<rect x="626" y="444" width="1" height="21" fill="#000"/>
<rect x="624" y="447" width="5" height="9" fill="#000"/>
<rect x="625" y="448" width="3" height="7" fill="#fff"/>
<rect x="634" y="452" width="1" height="18" fill="#000"/>
<rect x="632" y="458" width="5" height="3" fill="#000"/>
<rect x="642" y="454" width="1" height="18" fill="#000"/>
<rect x="640" y="460" width="5" height="10" fill="#000"/>
<rect x="650" y="466" width="1" height="27" fill="#000"/>
<rect x="648" y="474" width="5" height="8" fill="#000"/>
<rect x="649" y="475" width="3" height="6" fill="#fff"/>
<rect x="658" y="471" width="1" height="38" fill="#000"/>
<rect x="656" y="484" width="5" height="12" fill="#000"/>
<rect x="666" y="478" width="1" height="18" fill="#000"/>
<rect x="664" y="484" width="5" height="12" fill="#000"/>
<rect x="665" y="485" width="3" height="10" fill="#fff"/>
<rect x="674" y="440" width="1" height="27" fill="#000"/>
<rect x="672" y="440" width="5" height="27" fill="#000"/>
<rect x="673" y="441" width="3" height="25" fill="#fff"/>
<rect x="682" y="437" width="1" height="29" fill="#000"/>
<rect x="680" y="446" width="5" height="10" fill="#000"/>
<rect x="681" y="447" width="3" height="8" fill="#fff"/>
<rect x="690" y="389" width="1" height="33" fill="#000"/>
<rect x="688" y="389" width="5" height="23" fill="#000"/>
<rect x="689" y="390" width="3" height="21" fill="#fff"/>
<rect x="698" y="389" width="1" height="17" fill="#000"/>
<rect x="696" y="389" width="5" height="7" fill="#000"/>
<rect x="706" y="364" width="1" height="18" fill="#000"/>
<rect x="704" y="364" width="5" height="12" fill="#000"/>
<rect x="714" y="349" width="1" height="25" fill="#000"/>
<rect x="712" y="353" width="5" height="2" fill="#000"/>
<rect x="722" y="349" width="1" height="18" fill="#000"/>
<rect x="720" y="361" width="5" height="1" fill="#000"/>
<rect x="730" y="346" width="1" height="28" fill="#000"/>
<rect x="728" y="355" width="5" height="9" fill="#000"/>
<rect x="738" y="365" width="1" height="18" fill="#000"/>
<rect x="736" y="366" width="5" height="5" fill="#000"/>
<rect x="737" y="367" width="3" height="3" fill="#fff"/>
<rect x="746" y="348" width="1" height="17" fill="#000"/>
<rect x="744" y="351" width="5" height="3" fill="#000"/>
<rect x="754" y="343" width="1" height="14" fill="#000"/>
<rect x="752" y="343" width="5" height="9" fill="#000"/>
<rect x="762" y="336" width="1" height="19" fill="#000"/>
<rect x="760" y="342" width="5" height="11" fill="#000"/>
<rect x="761" y="343" width="3" height="9" fill="#fff"/>
<rect x="770" y="349" width="1" height="9" fill="#000"/>
<rect x="768" y="352" width="5" height="4" fill="#000"/>
<rect x="778" y="341" width="1" height="16" fill="#000"/>
<rect x="776" y="348" width="5" height="4" fill="#000"/>
<rect x="777" y="349" width="3" height="2" fill="#fff"/>
<rect x="786" y="332" width="1" height="22" fill="#000"/>
<rect x="784" y="337" width="5" height="9" fill="#000"/>
<rect x="794" y="338" width="1" height="14" fill="#000"/>
<rect x="792" y="338" width="5" height="4" fill="#000"/>
<rect x="793" y="339" width="3" height="2" fill="#fff"/>
<rect x="802" y="309" width="1" height="31" fill="#000"/>
<rect x="800" y="327" width="5" height="10" fill="#000"/>
<rect x="810" y="325" width="1" height="13" fill="#000"/>
<rect x="808" y="326" width="5" height="5" fill="#000"/>
<rect x="809" y="327" width="3" height="3" fill="#fff"/>
<rect x="818" y="311" width="1" height="21" fill="#000"/>
<rect x="816" y="318" width="5" height="10" fill="#000"/>
<rect x="817" y="319" width="3" height="8" fill="#fff"/>
<rect x="826" y="316" width="1" height="43" fill="#000"/>
<rect x="824" y="327" width="5" height="24" fill="#000"/>
<rect x="834" y="335" width="1" height="19" fill="#000"/>
<rect x="832" y="340" width="5" height="10" fill="#000"/>
<rect x="833" y="341" width="3" height="8" fill="#fff"/>
<rect x="842" y="338" width="1" height="19" fill="#000"/>
<rect x="840" y="343" width="5" height="3" fill="#000"/>
<rect x="841" y="344" width="3" height="1" fill="#fff"/>
<rect x="850" y="325" width="1" height="18" fill="#000"/>
<rect x="848" y="332" width="5" height="7" fill="#000"/>
<rect x="849" y="333" width="3" height="5" fill="#fff"/>
<rect x="858" y="320" width="1" height="16" fill="#000"/>
<rect x="856" y="321" width="5" height="10" fill="#000"/>
<rect x="857" y="322" width="3" height="8" fill="#fff"/>
<rect x="866" y="323" width="1" height="39" fill="#000"/>
<rect x="864" y="323" width="5" height="28" fill="#000"/>
<rect x="874" y="344" width="1" height="16" fill="#000"/>
<rect x="872" y="344" width="5" height="15" fill="#000"/>
<rect x="882" y="333" width="1" height="18" fill="#000"/>
<rect x="880" y="342" width="5" height="6" fill="#000"/>
<rect x="881" y="343" width="3" height="4" fill="#fff"/>
<rect x="890" y="349" width="1" height="13" fill="#000"/>
<rect x="888" y="351" width="5" height="8" fill="#000"/>
<rect x="889" y="352" width="3" height="6" fill="#fff"/>
<rect x="898" y="331" width="1" height="19" fill="#000"/>
<rect x="896" y="341" width="5" height="8" fill="#000"/>
<rect x="906" y="341" width="1" height="18" fill="#000"/>
<rect x="904" y="342" width="5" height="13" fill="#000"/>
<rect x="914" y="351" width="1" height="21" fill="#000"/>
<rect x="912" y="353" width="5" height="9" fill="#000"/>
<rect x="922" y="343" width="1" height="16" fill="#000"/>
<rect x="920" y="343" width="5" height="13" fill="#000"/>
<rect x="921" y="344" width="3" height="11" fill="#fff"/>
<rect x="930" y="332" width="1" height="21" fill="#000"/>
<rect x="928" y="333" width="5" height="12" fill="#000"/>
<rect x="929" y="334" width="3" height="10" fill="#fff"/>
<rect x="938" y="334" width="1" height="22" fill="#000"/>
<rect x="936" y="339" width="5" height="7" fill="#000"/>
<rect x="946" y="344" width="1" height="17" fill="#000"/>
<rect x="944" y="351" width="5" height="5" fill="#000"/>
<rect x="954" y="353" width="1" height="26" fill="#000"/>
<rect x="952" y="362" width="5" height="8" fill="#000"/>
<rect x="962" y="354" width="1" height="24" fill="#000"/>
<rect x="960" y="356" width="5" height="22" fill="#000"/>
<rect x="961" y="357" width="3" height="20" fill="#fff"/>
<rect x="970" y="347" width="1" height="15" fill="#000"/>
<rect x="968" y="350" width="5" height="6" fill="#000"/>
<rect x="969" y="351" width="3" height="4" fill="#fff"/>
<rect x="978" y="342" width="1" height="23" fill="#000"/>
<rect x="976" y="352" width="5" height="3" fill="#000"/>
<rect x="986" y="336" width="1" height="12" fill="#000"/>
<rect x="984" y="337" width="5" height="7" fill="#000"/>
<rect x="985" y="338" width="3" height="5" fill="#fff"/>
<rect x="994" y="294" width="1" height="44" fill="#000"/>
<rect x="992" y="295" width="5" height="43" fill="#000"/>
<rect x="993" y="296" width="3" height="41" fill="#fff"/>
<rect x="1002" y="288" width="1" height="14" fill="#000"/>
<rect x="1000" y="296" width="5" height="4" fill="#000"/>
<rect x="1001" y="297" width="3" height="2" fill="#fff"/>
<rect x="1010" y="279" width="1" height="27" fill="#000"/>
<rect x="1008" y="282" width="5" height="17" fill="#000"/>
<rect x="1009" y="283" width="3" height="15" fill="#fff"/>
<rect x="1018" y="268" width="1" height="34" fill="#000"/>
<rect x="1016" y="277" width="5" height="21" fill="#000"/>
<rect x="1017" y="278" width="3" height="19" fill="#fff"/>
<rect x="1026" y="264" width="1" height="25" fill="#000"/>
<rect x="1024" y="271" width="5" height="3" fill="#000"/>
<rect x="1034" y="265" width="1" height="19" fill="#000"/>
<rect x="1032" y="268" width="5" height="12" fill="#000"/>
<rect x="1042" y="252" width="1" height="27" fill="#000"/>
<rect x="1040" y="264" width="5" height="12" fill="#000"/>
<rect x="1041" y="265" width="3" height="10" fill="#fff"/>
<rect x="1050" y="238" width="1" height="26" fill="#000"/>
<rect x="1048" y="251" width="5" height="1" fill="#000"/>
<rect x="1058" y="232" width="1" height="30" fill="#000"/>
<rect x="1056" y="232" width="5" height="29" fill="#000"/>
<rect x="1057" y="233" width="3" height="27" fill="#fff"/>
<rect x="1066" y="223" width="1" height="16" fill="#000"/>
<rect x="1064" y="234" width="5" height="1" fill="#000"/>
<rect x="1074" y="217" width="1" height="16" fill="#000"/>
<rect x="1072" y="219" width="5" height="6" fill="#000"/>
<rect x="1073" y="220" width="3" height="4" fill="#fff"/>
<rect x="1082" y="206" width="1" height="24" fill="#000"/>
<rect x="1080" y="212" width="5" height="12" fill="#000"/>
<rect x="1081" y="213" width="3" height="10" fill="#fff"/>
<rect x="1090" y="195" width="1" height="31" fill="#000"/>
<rect x="1088" y="196" width="5" height="27" fill="#000"/>
<rect x="1089" y="197" width="3" height="25" fill="#fff"/>
<rect x="1098" y="128" width="1" height="60" fill="#000"/>
<rect x="1096" y="146" width="5" height="40" fill="#000"/>
<rect x="1097" y="147" width="3" height="38" fill="#fff"/>
<rect x="1106" y="124" width="1" height="28" fill="#000"/>
<rect x="1104" y="128" width="5" height="24" fill="#000"/>
<rect x="1105" y="129" width="3" height="22" fill="#fff"/>
<rect x="1114" y="112" width="1" height="25" fill="#000"/>
<rect x="1112" y="123" width="5" height="5" fill="#000"/>
<rect x="1122" y="129" width="1" height="31" fill="#000"/>
<rect x="1120" y="133" width="5" height="24" fill="#000"/>
<rect x="1130" y="112" width="1" height="37" fill="#000"/>
<rect x="1128" y="117" width="5" height="32" fill="#000"/>
<rect x="1129" y="118" width="3" height="30" fill="#fff"/>
<rect x="1138" y="124" width="1" height="40" fill="#000"/>
<rect x="1136" y="127" width="5" height="31" fill="#000"/>
<rect x="1146" y="144" width="1" height="28" fill="#000"/>
<rect x="1144" y="148" width="5" height="21" fill="#000"/>
<rect x="1154" y="174" width="1" height="49" fill="#000"/>
<rect x="1152" y="192" width="5" height="22" fill="#000"/>
<rect x="1162" y="191" width="1" height="57" fill="#000"/>
<rect x="1160" y="194" width="5" height="37" fill="#000"/>
<rect x="1170" y="190" width="1" height="45" fill="#000"/>
<rect x="1168" y="198" width="5" height="36" fill="#000"/>
<rect x="1169" y="199" width="3" height="34" fill="#fff"/>
<rect x="1178" y="157" width="1" height="31" fill="#000"/>
<rect x="1176" y="171" width="5" height="17" fill="#000"/>
<rect x="1177" y="172" width="3" height="15" fill="#fff"/>
<rect x="1186" y="166" width="1" height="27" fill="#000"/>
<rect x="1184" y="172" width="5" height="1" fill="#000"/>
<rect x="1194" y="163" width="1" height="43" fill="#000"/>
<rect x="1192" y="180" width="5" height="3" fill="#000"/>
<rect x="1193" y="181" width="3" height="1" fill="#fff"/>
<rect x="1202" y="159" width="1" height="23" fill="#000"/>
<rect x="1200" y="169" width="5" height="13" fill="#000"/>
<rect x="1201" y="170" width="3" height="11" fill="#fff"/>
<rect x="1210" y="146" width="1" height="30" fill="#000"/>
<rect x="1208" y="155" width="5" height="21" fill="#000"/>
<rect x="1218" y="156" width="1" height="16" fill="#000"/>
<rect x="1216" y="161" width="5" height="4" fill="#000"/>
<rect x="1217" y="162" width="3" height="2" fill="#fff"/>
<rect x="1226" y="119" width="1" height="29" fill="#000"/>
<rect x="1224" y="125" width="5" height="22" fill="#000"/>
<rect x="1225" y="126" width="3" height="20" fill="#fff"/>
<rect x="1234" y="116" width="1" height="21" fill="#000"/>
<rect x="1232" y="117" width="5" height="15" fill="#000"/>
<rect x="1233" y="118" width="3" height="13" fill="#fff"/>
<rect x="1242" y="72" width="1" height="22" fill="#000"/>
<rect x="1240" y="77" width="5" height="7" fill="#000"/>
<rect x="1241" y="78" width="3" height="5" fill="#fff"/>
<rect x="1250" y="52" width="1" height="43" fill="#000"/>
<rect x="1248" y="59" width="5" height="30" fill="#000"/>
<rect x="1249" y="60" width="3" height="28" fill="#fff"/>
<rect x="1258" y="50" width="1" height="45" fill="#000"/>
<rect x="1256" y="53" width="5" height="41" fill="#000"/>
<rect x="1266" y="85" width="1" height="36" fill="#000"/>
<rect x="1264" y="88" width="5" height="10" fill="#000"/>
<rect x="1265" y="89" width="3" height="8" fill="#fff"/>
<rect x="1274" y="58" width="1" height="60" fill="#000"/>
<rect x="1272" y="69" width="5" height="49" fill="#000"/>
<rect x="1282" y="62" width="1" height="56" fill="#000"/>
<rect x="1280" y="84" width="5" height="29" fill="#000"/>
<rect x="1281" y="85" width="3" height="27" fill="#fff"/>
<rect x="1290" y="76" width="1" height="80" fill="#000"/>
<rect x="1288" y="89" width="5" height="58" fill="#000"/>
<rect x="1298" y="101" width="1" height="34" fill="#000"/>
<rect x="1296" y="118" width="5" height="6" fill="#000"/>
<rect x="1306" y="156" width="1" height="42" fill="#000"/>
<rect x="1304" y="165" width="5" height="24" fill="#000"/>
<rect x="1314" y="161" width="1" height="21" fill="#000"/>
<rect x="1312" y="164" width="5" height="2" fill="#000"/>
<rect x="1322" y="148" width="1" height="52" fill="#000"/>
<rect x="1320" y="152" width="5" height="39" fill="#000"/>
<rect x="1330" y="135" width="1" height="50" fill="#000"/>
<rect x="1328" y="142" width="5" height="38" fill="#000"/>
<rect x="1329" y="143" width="3" height="36" fill="#fff"/>
<rect x="1338" y="158" width="1" height="34" fill="#000"/>
<rect x="1336" y="165" width="5" height="16" fill="#000"/>
<rect x="1346" y="171" width="1" height="55" fill="#000"/>
<rect x="1344" y="192" width="5" height="20" fill="#000"/>
<rect x="1345" y="193" width="3" height="18" fill="#fff"/>
<rect x="1354" y="164" width="1" height="64" fill="#000"/>
<rect x="1352" y="165" width="5" height="55" fill="#000"/>
<rect x="1362" y="188" width="1" height="44" fill="#000"/>
<rect x="1360" y="200" width="5" height="10" fill="#000"/>
<rect x="1361" y="201" width="3" height="8" fill="#fff"/>
<rect x="1370" y="181" width="1" height="28" fill="#000"/>
<rect x="1368" y="182" width="5" height="16" fill="#000"/>
<rect x="1378" y="170" width="1" height="29" fill="#000"/>
<rect x="1376" y="170" width="5" height="29" fill="#000"/>
<rect x="1377" y="171" width="3" height="27" fill="#fff"/>
<rect x="1386" y="149" width="1" height="60" fill="#000"/>
<rect x="1384" y="151" width="5" height="53" fill="#000"/>
<rect x="1394" y="177" width="1" height="35" fill="#000"/>
<rect x="1392" y="196" width="5" height="1" fill="#000"/>
<rect x="1402" y="178" width="1" height="19" fill="#000"/>
<rect x="1400" y="183" width="5" height="6" fill="#000"/>
<rect x="1410" y="176" width="1" height="27" fill="#000"/>
<rect x="1408" y="182" width="5" height="4" fill="#000"/>
<rect x="1418" y="149" width="1" height="19" fill="#000"/>
<rect x="1416" y="162" width="5" height="6" fill="#000"/>
<rect x="1417" y="163" width="3" height="4" fill="#fff"/>
</g></svg>
<rect x="1277" y="166" width="181" height="6" fill="#00ff00"/>
<line x1="1256" y1="63" x2="1340.5814195816306" y2="212.42717459421394" stroke="#ff0000" stroke-width="4" stroke-linecap="square" shape-rendering="crispEdges"/>
<polygon points="1346,222 1335.7950068787375,215.13646480339867 1345.3678322845237,209.7178843850292" fill="#ff0000" shape-rendering="crispEdges"/>
<line x1="1347" y1="221" x2="1379.6935339642207" y2="161.63542517023095" stroke="#ff0000" stroke-width="4" stroke-linecap="square" shape-rendering="crispEdges"/>
<polygon points="1385,152 1384.5112465493362,164.28865818812062 1374.8758213791052,158.98219215234127" fill="#ff0000" shape-rendering="crispEdges"/>
<line x1="1387.5" y1="153" x2="1390.2751636855367" y2="195.02390723812726" stroke="#ff0000" stroke-width="4" stroke-linecap="square" shape-rendering="crispEdges"/>
<polygon points="1391,206 1384.7871173046003,195.3863253953589 1395.763210066473,194.66148908089562" fill="#ff0000" shape-rendering="crispEdges"/>
<line x1="1390" y1="205" x2="1424.4944992460398" y2="168.04160795067156" stroke="#ff0000" stroke-width="4" stroke-linecap="square" shape-rendering="crispEdges"/>
<polygon points="1432,160 1428.5153032213757,171.79435832765162 1420.473695270704,164.2888575736915" fill="#ff0000" shape-rendering="crispEdges"/>
<text x="1475.6" y="207.3" font-size="21" fill="#00ff00" textLength="107" lengthAdjust="spacingAndGlyphs" font-weight="200" font-family="'Noto Sans CJK SC', sans-serif">多空转折点</text>
<polygon points="5,34 12,34 8.5,30" fill="#000"/>
<text x="16.5" y="35" font-size="10" fill="#000" textLength="198.6" lengthAdjust="spacingAndGlyphs" font-family="'Liberation Sans', 'Noto Sans CJK SC', sans-serif">HK50-,Daily  29270.0 29569.0 29261.0 29361.0</text>
<polygon points="1429.5,24 1439.5,24 1434.5,29" fill="#a8a8a8"/>
<rect x="1690" y="45" width="2" height="1" fill="#000"/>
<text x="1695" y="49" font-size="10" letter-spacing="-0.45" fill="#000" font-family="'Liberation Sans', 'Noto Sans CJK SC', sans-serif">31187.5</text>
<rect x="1690" y="78" width="2" height="1" fill="#000"/>
<text x="1695" y="82" font-size="10" letter-spacing="-0.45" fill="#000" font-family="'Liberation Sans', 'Noto Sans CJK SC', sans-serif">30676.0</text>
<rect x="1690" y="111" width="2" height="1" fill="#000"/>
<text x="1695" y="115" font-size="10" letter-spacing="-0.45" fill="#000" font-family="'Liberation Sans', 'Noto Sans CJK SC', sans-serif">30164.5</text>
<rect x="1690" y="144" width="2" height="1" fill="#000"/>
<text x="1695" y="148" font-size="10" letter-spacing="-0.45" fill="#000" font-family="'Liberation Sans', 'Noto Sans CJK SC', sans-serif">29653.0</text>
<rect x="1690" y="177" width="2" height="1" fill="#000"/>
<text x="1695" y="181" font-size="10" letter-spacing="-0.45" fill="#000" font-family="'Liberation Sans', 'Noto Sans CJK SC', sans-serif">29126.0</text>
<rect x="1690" y="210" width="2" height="1" fill="#000"/>
<text x="1695" y="214" font-size="10" letter-spacing="-0.45" fill="#000" font-family="'Liberation Sans', 'Noto Sans CJK SC', sans-serif">28614.5</text>
<rect x="1690" y="243" width="2" height="1" fill="#000"/>
<text x="1695" y="247" font-size="10" letter-spacing="-0.45" fill="#000" font-family="'Liberation Sans', 'Noto Sans CJK SC', sans-serif">28087.5</text>
<rect x="1690" y="276" width="2" height="1" fill="#000"/>
<text x="1695" y="280" font-size="10" letter-spacing="-0.45" fill="#000" font-family="'Liberation Sans', 'Noto Sans CJK SC', sans-serif">27576.0</text>
<rect x="1690" y="309" width="2" height="1" fill="#000"/>
<text x="1695" y="313" font-size="10" letter-spacing="-0.45" fill="#000" font-family="'Liberation Sans', 'Noto Sans CJK SC', sans-serif">27064.5</text>
<rect x="1690" y="342" width="2" height="1" fill="#000"/>
<text x="1695" y="346" font-size="10" letter-spacing="-0.45" fill="#000" font-family="'Liberation Sans', 'Noto Sans CJK SC', sans-serif">26553.0</text>
<rect x="1690" y="375" width="2" height="1" fill="#000"/>
<text x="1695" y="379" font-size="10" letter-spacing="-0.45" fill="#000" font-family="'Liberation Sans', 'Noto Sans CJK SC', sans-serif">26026.0</text>
<rect x="1690" y="408" width="2" height="1" fill="#000"/>
<text x="1695" y="412" font-size="10" letter-spacing="-0.45" fill="#000" font-family="'Liberation Sans', 'Noto Sans CJK SC', sans-serif">25514.5</text>
<rect x="1690" y="441" width="2" height="1" fill="#000"/>
<text x="1695" y="445" font-size="10" letter-spacing="-0.45" fill="#000" font-family="'Liberation Sans', 'Noto Sans CJK SC', sans-serif">25003.0</text>
<rect x="1690" y="474" width="2" height="1" fill="#000"/>
<text x="1695" y="478" font-size="10" letter-spacing="-0.45" fill="#000" font-family="'Liberation Sans', 'Noto Sans CJK SC', sans-serif">24476.0</text>
<rect x="1690" y="507" width="2" height="1" fill="#000"/>
<text x="1695" y="511" font-size="10" letter-spacing="-0.45" fill="#000" font-family="'Liberation Sans', 'Noto Sans CJK SC', sans-serif">23964.5</text>
<rect x="1690" y="540" width="2" height="1" fill="#000"/>
<text x="1695" y="544" font-size="10" letter-spacing="-0.45" fill="#000" font-family="'Liberation Sans', 'Noto Sans CJK SC', sans-serif">23453.0</text>
<rect x="1690" y="573" width="2" height="1" fill="#000"/>
<text x="1695" y="577" font-size="10" letter-spacing="-0.45" fill="#000" font-family="'Liberation Sans', 'Noto Sans CJK SC', sans-serif">22941.5</text>
<rect x="1691" y="117" width="41" height="11" fill="#ff0000"/>
<text x="1695" y="126" font-size="10" letter-spacing="-0.45" fill="#fff" font-family="'Liberation Sans', 'Noto Sans CJK SC', sans-serif">29965.7</text>
<rect x="1691" y="136" width="41" height="11" fill="#ff0000"/>
<text x="1695" y="145" font-size="10" letter-spacing="-0.45" fill="#fff" font-family="'Liberation Sans', 'Noto Sans CJK SC', sans-serif">29669.2</text>
<rect x="1691" y="157" width="41" height="11" fill="#000000"/>
<text x="1695" y="166" font-size="10" letter-spacing="-0.45" fill="#fff" font-family="'Liberation Sans', 'Noto Sans CJK SC', sans-serif">29361.0</text>
<rect x="1691" y="162" width="41" height="11" fill="#32cd32"/>
<text x="1695" y="171" font-size="10" letter-spacing="-0.45" fill="#ffffe0" font-family="'Liberation Sans', 'Noto Sans CJK SC', sans-serif">29263.3</text>
<rect x="1691" y="179" width="41" height="11" fill="#0000ff"/>
<text x="1695" y="188" font-size="10" letter-spacing="-0.45" fill="#fff" font-family="'Liberation Sans', 'Noto Sans CJK SC', sans-serif">28998.0</text>
<rect x="1691" y="197" width="41" height="11" fill="#0000ff"/>
<text x="1695" y="206" font-size="10" letter-spacing="-0.45" fill="#fff" font-family="'Liberation Sans', 'Noto Sans CJK SC', sans-serif">28717.0</text>
<svg x="2" y="579" width="1687" height="169" overflow="hidden"><g transform="translate(-2,-579)">
<rect x="2" y="663" width="1" height="27" fill="#c0c0c0"/>
<rect x="10" y="649" width="1" height="41" fill="#c0c0c0"/>
<rect x="18" y="641" width="1" height="49" fill="#c0c0c0"/>
<rect x="26" y="635" width="1" height="55" fill="#c0c0c0"/>
<rect x="34" y="629" width="1" height="61" fill="#c0c0c0"/>
<rect x="42" y="630" width="1" height="60" fill="#c0c0c0"/>
<rect x="50" y="631" width="1" height="59" fill="#c0c0c0"/>
<rect x="58" y="635" width="1" height="55" fill="#c0c0c0"/>
<rect x="66" y="639" width="1" height="51" fill="#c0c0c0"/>
<rect x="74" y="648" width="1" height="42" fill="#c0c0c0"/>
<rect x="82" y="653" width="1" height="37" fill="#c0c0c0"/>
<rect x="90" y="659" width="1" height="31" fill="#c0c0c0"/>
<rect x="98" y="658" width="1" height="32" fill="#c0c0c0"/>
<rect x="106" y="663" width="1" height="27" fill="#c0c0c0"/>
<rect x="114" y="666" width="1" height="24" fill="#c0c0c0"/>
<rect x="122" y="673" width="1" height="17" fill="#c0c0c0"/>
<rect x="130" y="680" width="1" height="10" fill="#c0c0c0"/>
<rect x="138" y="684" width="1" height="6" fill="#c0c0c0"/>
<rect x="146" y="687" width="1" height="3" fill="#c0c0c0"/>
<rect x="154" y="689" width="1" height="1" fill="#c0c0c0"/>
<rect x="162" y="689" width="1" height="4" fill="#c0c0c0"/>
<rect x="170" y="689" width="1" height="9" fill="#c0c0c0"/>
<rect x="178" y="689" width="1" height="7" fill="#c0c0c0"/>
<rect x="186" y="689" width="1" height="5" fill="#c0c0c0"/>
<rect x="194" y="689" width="1" height="5" fill="#c0c0c0"/>
<rect x="202" y="689" width="1" height="9" fill="#c0c0c0"/>
<rect x="210" y="689" width="1" height="11" fill="#c0c0c0"/>
<rect x="218" y="689" width="1" height="9" fill="#c0c0c0"/>
<rect x="226" y="689" width="1" height="4" fill="#c0c0c0"/>
<rect x="234" y="689" width="1" height="1" fill="#c0c0c0"/>
<rect x="242" y="689" width="1" height="1" fill="#c0c0c0"/>
<rect x="250" y="685" width="1" height="5" fill="#c0c0c0"/>
<rect x="258" y="682" width="1" height="8" fill="#c0c0c0"/>
<rect x="266" y="682" width="1" height="8" fill="#c0c0c0"/>
<rect x="274" y="686" width="1" height="4" fill="#c0c0c0"/>
<rect x="282" y="685" width="1" height="5" fill="#c0c0c0"/>
<rect x="290" y="680" width="1" height="10" fill="#c0c0c0"/>
<rect x="298" y="678" width="1" height="12" fill="#c0c0c0"/>
<rect x="306" y="676" width="1" height="14" fill="#c0c0c0"/>
<rect x="314" y="677" width="1" height="13" fill="#c0c0c0"/>
<rect x="322" y="676" width="1" height="14" fill="#c0c0c0"/>
<rect x="330" y="678" width="1" height="12" fill="#c0c0c0"/>
<rect x="338" y="679" width="1" height="11" fill="#c0c0c0"/>
<rect x="346" y="681" width="1" height="9" fill="#c0c0c0"/>
<rect x="354" y="685" width="1" height="5" fill="#c0c0c0"/>
<rect x="362" y="689" width="1" height="1" fill="#c0c0c0"/>
<rect x="370" y="689" width="1" height="4" fill="#c0c0c0"/>
<rect x="378" y="689" width="1" height="9" fill="#c0c0c0"/>
<rect x="386" y="689" width="1" height="13" fill="#c0c0c0"/>
<rect x="394" y="689" width="1" height="17" fill="#c0c0c0"/>
<rect x="402" y="689" width="1" height="19" fill="#c0c0c0"/>
<rect x="410" y="689" width="1" height="19" fill="#c0c0c0"/>
<rect x="418" y="689" width="1" height="15" fill="#c0c0c0"/>
<rect x="426" y="689" width="1" height="15" fill="#c0c0c0"/>
<rect x="434" y="689" width="1" height="17" fill="#c0c0c0"/>
<rect x="442" y="689" width="1" height="15" fill="#c0c0c0"/>
<rect x="450" y="689" width="1" height="23" fill="#c0c0c0"/>
<rect x="458" y="689" width="1" height="29" fill="#c0c0c0"/>
<rect x="466" y="689" width="1" height="33" fill="#c0c0c0"/>
<rect x="474" y="689" width="1" height="40" fill="#c0c0c0"/>
<rect x="482" y="689" width="1" height="47" fill="#c0c0c0"/>
<rect x="490" y="689" width="1" height="48" fill="#c0c0c0"/>
<rect x="498" y="689" width="1" height="50" fill="#c0c0c0"/>
<rect x="506" y="689" width="1" height="49" fill="#c0c0c0"/>
<rect x="514" y="689" width="1" height="45" fill="#c0c0c0"/>
<rect x="522" y="689" width="1" height="40" fill="#c0c0c0"/>
<rect x="530" y="689" width="1" height="33" fill="#c0c0c0"/>
<rect x="538" y="689" width="1" height="29" fill="#c0c0c0"/>
<rect x="546" y="689" width="1" height="25" fill="#c0c0c0"/>
<rect x="554" y="689" width="1" height="15" fill="#c0c0c0"/>
<rect x="562" y="689" width="1" height="8" fill="#c0c0c0"/>
<rect x="570" y="689" width="1" height="3" fill="#c0c0c0"/>
<rect x="578" y="689" width="1" height="3" fill="#c0c0c0"/>
<rect x="586" y="689" width="1" height="1" fill="#c0c0c0"/>
<rect x="594" y="688" width="1" height="2" fill="#c0c0c0"/>
<rect x="602" y="686" width="1" height="4" fill="#c0c0c0"/>
<rect x="610" y="683" width="1" height="7" fill="#c0c0c0"/>
<rect x="618" y="678" width="1" height="12" fill="#c0c0c0"/>
<rect x="626" y="674" width="1" height="16" fill="#c0c0c0"/>
<rect x="634" y="673" width="1" height="17" fill="#c0c0c0"/>
<rect x="642" y="674" width="1" height="16" fill="#c0c0c0"/>
<rect x="650" y="676" width="1" height="14" fill="#c0c0c0"/>
<rect x="658" y="680" width="1" height="10" fill="#c0c0c0"/>
<rect x="666" y="682" width="1" height="8" fill="#c0c0c0"/>
<rect x="674" y="678" width="1" height="12" fill="#c0c0c0"/>
<rect x="682" y="677" width="1" height="13" fill="#c0c0c0"/>
<rect x="690" y="664" width="1" height="26" fill="#c0c0c0"/>
<rect x="698" y="657" width="1" height="33" fill="#c0c0c0"/>
<rect x="706" y="649" width="1" height="41" fill="#c0c0c0"/>
<rect x="714" y="640" width="1" height="50" fill="#c0c0c0"/>
<rect x="722" y="634" width="1" height="56" fill="#c0c0c0"/>
<rect x="730" y="631" width="1" height="59" fill="#c0c0c0"/>
<rect x="738" y="629" width="1" height="61" fill="#c0c0c0"/>
<rect x="746" y="627" width="1" height="63" fill="#c0c0c0"/>
<rect x="754" y="625" width="1" height="65" fill="#c0c0c0"/>
<rect x="762" y="623" width="1" height="67" fill="#c0c0c0"/>
<rect x="770" y="625" width="1" height="65" fill="#c0c0c0"/>
<rect x="778" y="625" width="1" height="65" fill="#c0c0c0"/>
<rect x="786" y="626" width="1" height="64" fill="#c0c0c0"/>
<rect x="794" y="626" width="1" height="64" fill="#c0c0c0"/>
<rect x="802" y="627" width="1" height="63" fill="#c0c0c0"/>
<rect x="810" y="627" width="1" height="63" fill="#c0c0c0"/>
<rect x="818" y="626" width="1" height="64" fill="#c0c0c0"/>
<rect x="826" y="631" width="1" height="59" fill="#c0c0c0"/>
<rect x="834" y="634" width="1" height="56" fill="#c0c0c0"/>
<rect x="842" y="638" width="1" height="52" fill="#c0c0c0"/>
<rect x="850" y="639" width="1" height="51" fill="#c0c0c0"/>
<rect x="858" y="640" width="1" height="50" fill="#c0c0c0"/>
<rect x="866" y="645" width="1" height="45" fill="#c0c0c0"/>
<rect x="874" y="650" width="1" height="40" fill="#c0c0c0"/>
<rect x="882" y="653" width="1" height="37" fill="#c0c0c0"/>
<rect x="890" y="657" width="1" height="33" fill="#c0c0c0"/>
<rect x="898" y="660" width="1" height="30" fill="#c0c0c0"/>
<rect x="906" y="663" width="1" height="27" fill="#c0c0c0"/>
<rect x="914" y="667" width="1" height="23" fill="#c0c0c0"/>
<rect x="922" y="668" width="1" height="22" fill="#c0c0c0"/>
<rect x="930" y="667" width="1" height="23" fill="#c0c0c0"/>
<rect x="938" y="669" width="1" height="21" fill="#c0c0c0"/>
<rect x="946" y="672" width="1" height="18" fill="#c0c0c0"/>
<rect x="954" y="676" width="1" height="14" fill="#c0c0c0"/>
<rect x="962" y="678" width="1" height="12" fill="#c0c0c0"/>
<rect x="970" y="679" width="1" height="11" fill="#c0c0c0"/>
<rect x="978" y="680" width="1" height="10" fill="#c0c0c0"/>
<rect x="986" y="679" width="1" height="11" fill="#c0c0c0"/>
<rect x="994" y="671" width="1" height="19" fill="#c0c0c0"/>
<rect x="1002" y="666" width="1" height="24" fill="#c0c0c0"/>
<rect x="1010" y="660" width="1" height="30" fill="#c0c0c0"/>
<rect x="1018" y="655" width="1" height="35" fill="#c0c0c0"/>
<rect x="1026" y="650" width="1" height="40" fill="#c0c0c0"/>
<rect x="1034" y="648" width="1" height="42" fill="#c0c0c0"/>
<rect x="1042" y="645" width="1" height="45" fill="#c0c0c0"/>
<rect x="1050" y="641" width="1" height="49" fill="#c0c0c0"/>
<rect x="1058" y="635" width="1" height="55" fill="#c0c0c0"/>
<rect x="1066" y="632" width="1" height="58" fill="#c0c0c0"/>
<rect x="1074" y="628" width="1" height="62" fill="#c0c0c0"/>
<rect x="1082" y="624" width="1" height="66" fill="#c0c0c0"/>
<rect x="1090" y="620" width="1" height="70" fill="#c0c0c0"/>
<rect x="1098" y="609" width="1" height="81" fill="#c0c0c0"/>
<rect x="1106" y="600" width="1" height="90" fill="#c0c0c0"/>
<rect x="1114" y="593" width="1" height="97" fill="#c0c0c0"/>
<rect x="1122" y="593" width="1" height="97" fill="#c0c0c0"/>
<rect x="1130" y="588" width="1" height="102" fill="#c0c0c0"/>
<rect x="1138" y="592" width="1" height="98" fill="#c0c0c0"/>
<rect x="1146" y="597" width="1" height="93" fill="#c0c0c0"/>
<rect x="1154" y="609" width="1" height="81" fill="#c0c0c0"/>
<rect x="1162" y="622" width="1" height="68" fill="#c0c0c0"/>
<rect x="1170" y="628" width="1" height="62" fill="#c0c0c0"/>
<rect x="1178" y="630" width="1" height="60" fill="#c0c0c0"/>
<rect x="1186" y="632" width="1" height="58" fill="#c0c0c0"/>
<rect x="1194" y="635" width="1" height="55" fill="#c0c0c0"/>
<rect x="1202" y="637" width="1" height="53" fill="#c0c0c0"/>
<rect x="1210" y="639" width="1" height="51" fill="#c0c0c0"/>
<rect x="1218" y="640" width="1" height="50" fill="#c0c0c0"/>
<rect x="1226" y="636" width="1" height="54" fill="#c0c0c0"/>
<rect x="1234" y="633" width="1" height="57" fill="#c0c0c0"/>
<rect x="1242" y="623" width="1" height="67" fill="#c0c0c0"/>
<rect x="1250" y="615" width="1" height="75" fill="#c0c0c0"/>
<rect x="1258" y="614" width="1" height="76" fill="#c0c0c0"/>
<rect x="1266" y="614" width="1" height="76" fill="#c0c0c0"/>
<rect x="1274" y="618" width="1" height="72" fill="#c0c0c0"/>
<rect x="1282" y="623" width="1" height="67" fill="#c0c0c0"/>
<rect x="1290" y="628" width="1" height="62" fill="#c0c0c0"/>
<rect x="1298" y="633" width="1" height="57" fill="#c0c0c0"/>
<rect x="1306" y="647" width="1" height="43" fill="#c0c0c0"/>
<rect x="1314" y="656" width="1" height="34" fill="#c0c0c0"/>
<rect x="1322" y="667" width="1" height="23" fill="#c0c0c0"/>
<rect x="1330" y="668" width="1" height="22" fill="#c0c0c0"/>
<rect x="1338" y="675" width="1" height="15" fill="#c0c0c0"/>
<rect x="1346" y="682" width="1" height="8" fill="#c0c0c0"/>
<rect x="1354" y="689" width="1" height="1" fill="#c0c0c0"/>
<rect x="1362" y="689" width="1" height="7" fill="#c0c0c0"/>
<rect x="1370" y="689" width="1" height="10" fill="#c0c0c0"/>
<rect x="1378" y="689" width="1" height="9" fill="#c0c0c0"/>
<rect x="1386" y="689" width="1" height="11" fill="#c0c0c0"/>
<rect x="1394" y="689" width="1" height="13" fill="#c0c0c0"/>
<rect x="1402" y="689" width="1" height="11" fill="#c0c0c0"/>
<rect x="1410" y="689" width="1" height="13" fill="#c0c0c0"/>
<rect x="1418" y="689" width="1" height="9" fill="#c0c0c0"/>
<polyline points="2.50,668.00 18.00,664.25 35.50,654.25 50.50,645.50 65.50,638.00 75.50,636.50 88.00,638.00 100.50,641.75 113.00,648.00 125.50,656.00 140.50,665.50 155.50,673.00 170.50,680.50 185.50,688.00 200.50,692.50 215.50,696.00 235.50,696.00 250.50,693.00 265.50,691.00 280.50,688.00 295.50,684.25 310.50,681.00 325.50,679.50 340.50,679.50 355.50,678.50 365.50,679.25 380.50,684.25 395.50,690.00 410.50,695.00 420.50,700.00 430.50,701.75 443.50,705.00 458.50,708.50 468.50,711.25 481.00,714.25 493.50,721.75 506.00,727.50 516.00,731.00 531.00,733.00 541.00,731.75 556.00,726.75 568.50,719.25 581.00,710.50 593.50,703.00 606.00,696.75 618.50,691.00 631.00,685.50 643.50,680.50 656.00,678.75 668.50,678.50 681.00,676.75 693.50,673.50 706.00,670.50 718.50,664.25 731.00,656.75 743.50,646.75 756.00,639.25 768.50,631.75 781.00,628.00 793.50,626.25 806.00,625.50 823.50,625.50 843.50,628.00 852.50,630.50 867.00,633.50 879.50,638.00 889.50,641.00 902.00,645.50 914.50,651.75 927.00,657.50 939.50,661.00 952.00,665.00 964.50,668.50 977.00,671.25 989.50,673.00 1002.00,673.50 1014.50,671.00 1027.00,666.75 1039.50,661.75 1052.00,655.50 1064.50,648.00 1077.00,641.75 1089.50,635.50 1102.00,628.00 1114.50,619.25 1127.00,611.75 1139.50,604.25 1152.00,600.50 1164.50,600.00 1177.00,604.25 1189.50,610.50 1202.00,619.25 1214.50,628.00 1227.00,631.75 1239.50,633.00 1252.00,631.00 1264.50,628.00 1275.50,624.20 1292.50,621.40 1306.50,622.00 1312.10,624.20 1326.10,634.00 1342.90,646.60 1362.50,667.60 1376.50,677.40 1390.50,687.20 1404.50,694.20 1418.50,699.30" fill="none" stroke="#ff0000" stroke-width="1" stroke-dasharray="3,3" shape-rendering="crispEdges"/>
</g></svg>
<line x1="1270" y1="618" x2="1380.12006506991" y2="698.5079467317829" stroke="#ff0000" stroke-width="4" stroke-linecap="square" shape-rendering="crispEdges"/>
<polygon points="1389,705 1376.8740384358014,702.9479141968279 1383.3660917040186,694.0679792667379" fill="#ff0000" shape-rendering="crispEdges"/>
<line x1="1389" y1="705" x2="1428.5233343808075" y2="692.3525329981417" stroke="#ff0000" stroke-width="4" stroke-linecap="square" shape-rendering="crispEdges"/>
<polygon points="1439,689 1430.1996008798783,697.5908658077379 1426.8470678817366,687.1142001885454" fill="#ff0000" shape-rendering="crispEdges"/>
<text x="5.8" y="591.5" font-size="10" fill="#000" textLength="124.7" lengthAdjust="spacingAndGlyphs" font-family="'Liberation Sans', 'Noto Sans CJK SC', sans-serif">MACD(12,26,9) -78.99 -86.93</text>
<text x="1693" y="590" font-size="10" letter-spacing="-0.45" fill="#000" font-family="'Liberation Sans', 'Noto Sans CJK SC', sans-serif">905.5</text>
<rect x="1690" y="689" width="2" height="1" fill="#000"/>
<text x="1693" y="693" font-size="10" letter-spacing="-0.45" fill="#000" font-family="'Liberation Sans', 'Noto Sans CJK SC', sans-serif">0.00</text>
<text x="1693" y="745" font-size="10" letter-spacing="-0.45" fill="#000" font-family="'Liberation Sans', 'Noto Sans CJK SC', sans-serif">-488.99</text>
<line x1="2" y1="786.5" x2="1689" y2="786.5" stroke="#c0c0c0" stroke-width="1" stroke-dasharray="3,3" shape-rendering="crispEdges"/>
<line x1="2" y1="837.5" x2="1689" y2="837.5" stroke="#c0c0c0" stroke-width="1" stroke-dasharray="3,3" shape-rendering="crispEdges"/>
<line x1="2" y1="898.5" x2="1689" y2="898.5" stroke="#c0c0c0" stroke-width="1" stroke-dasharray="3,3" shape-rendering="crispEdges"/>
<svg x="2" y="751" width="1687" height="173" overflow="hidden"><g transform="translate(-2,-751)">
<polyline points="2.50,819.50 10.50,806.25 18.50,813.75 26.50,813.00 34.50,811.25 42.50,823.00 50.50,822.50 58.50,827.00 66.50,828.25 74.50,840.00 82.50,835.50 90.50,838.00 98.50,827.50 106.50,837.00 114.50,834.25 122.50,845.00 130.50,846.25 138.50,843.25 146.50,841.25 154.50,845.00 162.50,846.75 170.50,850.00 178.50,837.00 186.50,834.25 194.50,839.50 202.50,849.00 210.50,848.00 218.50,837.00 226.50,829.50 234.50,832.00 242.50,833.00 250.50,828.75 258.50,827.00 266.50,832.50 274.50,845.00 282.50,835.00 290.50,825.50 298.50,827.00 306.50,827.00 314.50,836.25 322.50,830.50 330.50,838.25 338.50,838.25 346.50,838.25 354.50,841.25 362.50,848.75 370.50,853.00 378.50,854.25 386.50,856.25 394.50,861.25 402.50,852.00 410.50,848.00 418.50,840.00 426.50,841.25 434.50,853.00 442.50,848.25 450.50,863.00 458.50,868.00 466.50,866.25 474.50,873.75 482.50,876.25 490.50,865.50 498.50,868.25 506.50,861.25 514.50,849.50 522.50,843.75 530.50,836.25 538.50,838.00 546.50,840.00 554.50,822.50 562.50,822.50 570.50,825.50 578.50,842.00 586.50,833.75 594.50,829.25 602.50,830.50 610.50,826.25 618.50,822.00 626.50,819.25 634.50,827.50 642.50,832.00 650.50,835.50 658.50,846.25 666.50,839.50 674.50,821.25 682.50,824.50 690.50,807.50 698.50,810.50 706.50,805.00 714.50,800.50 722.50,804.25 730.50,805.50 738.50,806.25 746.50,803.75 754.50,802.50 762.50,800.50 770.50,809.50 778.50,806.25 786.50,806.25 794.50,803.75 802.50,803.25 810.50,799.50 818.50,797.50 826.50,820.00 834.50,816.25 842.50,819.25 850.50,813.75 858.50,810.50 866.50,828.75 874.50,833.00 882.50,826.25 890.50,830.50 898.50,829.50 906.50,832.50 914.50,837.00 922.50,827.50 930.50,822.50 938.50,830.50 946.50,837.00 954.50,843.25 962.50,836.25 970.50,833.00 978.50,835.00 986.50,826.25 994.50,810.50 1002.50,810.50 1010.50,806.25 1018.50,804.50 1026.50,803.75 1034.50,807.00 1042.50,802.00 1050.50,798.25 1058.50,793.75 1066.50,794.50 1074.50,790.50 1082.50,789.50 1090.50,785.50 1098.50,777.00 1106.50,774.50 1114.50,774.50 1122.50,796.25 1130.50,788.75 1138.50,809.50 1146.50,814.50 1154.50,833.00 1162.50,838.00 1170.50,828.00 1178.50,821.25 1186.50,821.25 1194.50,825.00 1202.50,821.25 1210.50,824.50 1218.50,819.50 1226.50,810.50 1234.50,807.70 1242.50,799.80 1250.50,797.50 1258.50,812.00 1266.50,810.60 1274.50,823.10 1282.50,815.00 1290.50,834.80 1298.50,829.50 1306.50,846.40 1314.50,841.20 1322.50,845.00 1330.50,834.80 1338.50,841.20 1346.50,845.60 1354.50,852.30 1362.50,845.60 1370.50,845.60 1378.50,837.70 1386.50,845.60 1394.50,844.00 1402.50,841.20 1410.50,839.70 1418.50,833.60" fill="none" stroke="#1e90ff" stroke-width="1" shape-rendering="crispEdges"/>
</g></svg>
<line x1="1242" y1="799" x2="1347.9948491593277" y2="847.4286810814169" stroke="#ff0000" stroke-width="4" stroke-linecap="square" shape-rendering="crispEdges"/>
<polygon points="1358,852 1345.7091897000362,852.4312565017531 1350.2805086186193,842.4261056610808" fill="#ff0000" shape-rendering="crispEdges"/>
<line x1="1358" y1="852" x2="1416.394723672528" y2="835.9202934814778" stroke="#ff0000" stroke-width="4" stroke-linecap="square" shape-rendering="crispEdges"/>
<polygon points="1427,833 1417.854870413267,841.2229316452137 1414.934576931789,830.6176553177418" fill="#ff0000" shape-rendering="crispEdges"/>
<text x="5.8" y="763.7" font-size="10" fill="#000" textLength="68.4" lengthAdjust="spacingAndGlyphs" font-family="'Liberation Sans', 'Noto Sans CJK SC', sans-serif">RSI(14) 52.2902</text>
<rect x="1690" y="923" width="2" height="1" fill="#000"/>
<text x="1693" y="761" font-size="10" letter-spacing="-0.45" fill="#000" font-family="'Liberation Sans', 'Noto Sans CJK SC', sans-serif">100</text>
<rect x="1690" y="786" width="2" height="1" fill="#000"/>
<text x="1693" y="790" font-size="10" letter-spacing="-0.45" fill="#000" font-family="'Liberation Sans', 'Noto Sans CJK SC', sans-serif">80</text>
<rect x="1690" y="837" width="2" height="1" fill="#000"/>
<text x="1693" y="841" font-size="10" letter-spacing="-0.45" fill="#000" font-family="'Liberation Sans', 'Noto Sans CJK SC', sans-serif">50</text>
<rect x="1690" y="898" width="2" height="1" fill="#000"/>
<text x="1693" y="902" font-size="10" letter-spacing="-0.45" fill="#000" font-family="'Liberation Sans', 'Noto Sans CJK SC', sans-serif">15</text>
<text x="1693" y="921" font-size="10" letter-spacing="-0.45" fill="#000" font-family="'Liberation Sans', 'Noto Sans CJK SC', sans-serif">0</text>
<rect x="2" y="925" width="1" height="3" fill="#000"/>
<text x="1.5" y="937" font-size="10" fill="#000" textLength="41.3" lengthAdjust="spacingAndGlyphs" font-family="'Liberation Sans', 'Noto Sans CJK SC', sans-serif">3 Jul 2020</text>
<rect x="66" y="925" width="1" height="3" fill="#000"/>
<text x="65.5" y="937" font-size="10" fill="#000" textLength="47" lengthAdjust="spacingAndGlyphs" font-family="'Liberation Sans', 'Noto Sans CJK SC', sans-serif">15 Jul 2020</text>
<rect x="130" y="925" width="1" height="3" fill="#000"/>
<text x="129.5" y="937" font-size="10" fill="#000" textLength="47" lengthAdjust="spacingAndGlyphs" font-family="'Liberation Sans', 'Noto Sans CJK SC', sans-serif">27 Jul 2020</text>
<rect x="194" y="925" width="1" height="3" fill="#000"/>
<text x="193.5" y="937" font-size="10" fill="#000" textLength="48" lengthAdjust="spacingAndGlyphs" font-family="'Liberation Sans', 'Noto Sans CJK SC', sans-serif">6 Aug 2020</text>
<rect x="258" y="925" width="1" height="3" fill="#000"/>
<text x="257.5" y="937" font-size="10" fill="#000" textLength="53.5" lengthAdjust="spacingAndGlyphs" font-family="'Liberation Sans', 'Noto Sans CJK SC', sans-serif">18 Aug 2020</text>
<rect x="322" y="925" width="1" height="3" fill="#000"/>
<text x="321.5" y="937" font-size="10" fill="#000" textLength="53.5" lengthAdjust="spacingAndGlyphs" font-family="'Liberation Sans', 'Noto Sans CJK SC', sans-serif">28 Aug 2020</text>
<rect x="386" y="925" width="1" height="3" fill="#000"/>
<text x="385.5" y="937" font-size="10" fill="#000" textLength="48" lengthAdjust="spacingAndGlyphs" font-family="'Liberation Sans', 'Noto Sans CJK SC', sans-serif">9 Sep 2020</text>
<rect x="450" y="925" width="1" height="3" fill="#000"/>
<text x="449.5" y="937" font-size="10" fill="#000" textLength="52.25" lengthAdjust="spacingAndGlyphs" font-family="'Liberation Sans', 'Noto Sans CJK SC', sans-serif">21 Sep 2020</text>
<rect x="514" y="925" width="1" height="3" fill="#000"/>
<text x="513.5" y="937" font-size="10" fill="#000" textLength="46" lengthAdjust="spacingAndGlyphs" font-family="'Liberation Sans', 'Noto Sans CJK SC', sans-serif">5 Oct 2020</text>
<rect x="578" y="925" width="1" height="3" fill="#000"/>
<text x="577.5" y="937" font-size="10" fill="#000" textLength="51" lengthAdjust="spacingAndGlyphs" font-family="'Liberation Sans', 'Noto Sans CJK SC', sans-serif">15 Oct 2020</text>
<rect x="642" y="925" width="1" height="3" fill="#000"/>
<text x="641.5" y="937" font-size="10" fill="#000" textLength="51.5" lengthAdjust="spacingAndGlyphs" font-family="'Liberation Sans', 'Noto Sans CJK SC', sans-serif">28 Oct 2020</text>
<rect x="706" y="925" width="1" height="3" fill="#000"/>
<text x="705.5" y="937" font-size="10" fill="#000" textLength="49" lengthAdjust="spacingAndGlyphs" font-family="'Liberation Sans', 'Noto Sans CJK SC', sans-serif">9 Nov 2020</text>
<rect x="770" y="925" width="1" height="3" fill="#000"/>
<text x="769.5" y="937" font-size="10" fill="#000" textLength="53.5" lengthAdjust="spacingAndGlyphs" font-family="'Liberation Sans', 'Noto Sans CJK SC', sans-serif">19 Nov 2020</text>
<rect x="834" y="925" width="1" height="3" fill="#000"/>
<text x="833.5" y="937" font-size="10" fill="#000" textLength="46.5" lengthAdjust="spacingAndGlyphs" font-family="'Liberation Sans', 'Noto Sans CJK SC', sans-serif">1 Dec 2020</text>
<rect x="898" y="925" width="1" height="3" fill="#000"/>
<text x="897.5" y="937" font-size="10" fill="#000" textLength="51.75" lengthAdjust="spacingAndGlyphs" font-family="'Liberation Sans', 'Noto Sans CJK SC', sans-serif">11 Dec 2020</text>
<rect x="962" y="925" width="1" height="3" fill="#000"/>
<text x="961.5" y="937" font-size="10" fill="#000" textLength="52.25" lengthAdjust="spacingAndGlyphs" font-family="'Liberation Sans', 'Noto Sans CJK SC', sans-serif">23 Dec 2020</text>
<rect x="1026" y="925" width="1" height="3" fill="#000"/>
<text x="1025.5" y="937" font-size="10" fill="#000" textLength="44.75" lengthAdjust="spacingAndGlyphs" font-family="'Liberation Sans', 'Noto Sans CJK SC', sans-serif">6 Jan 2021</text>
<rect x="1090" y="925" width="1" height="3" fill="#000"/>
<text x="1089.5" y="937" font-size="10" fill="#000" textLength="50" lengthAdjust="spacingAndGlyphs" font-family="'Liberation Sans', 'Noto Sans CJK SC', sans-serif">18 Jan 2021</text>
<rect x="1154" y="925" width="1" height="3" fill="#000"/>
<text x="1153.5" y="937" font-size="10" fill="#000" textLength="49.5" lengthAdjust="spacingAndGlyphs" font-family="'Liberation Sans', 'Noto Sans CJK SC', sans-serif">28 Jan 2021</text>
<rect x="1218" y="925" width="1" height="3" fill="#000"/>
<text x="1217.5" y="937" font-size="10" fill="#000" textLength="46.75" lengthAdjust="spacingAndGlyphs" font-family="'Liberation Sans', 'Noto Sans CJK SC', sans-serif">9 Feb 2021</text>
<rect x="1282" y="925" width="1" height="3" fill="#000"/>
<text x="1281.5" y="937" font-size="10" fill="#000" textLength="52" lengthAdjust="spacingAndGlyphs" font-family="'Liberation Sans', 'Noto Sans CJK SC', sans-serif">23 Feb 2021</text>
<rect x="1346" y="925" width="1" height="3" fill="#000"/>
<text x="1345.5" y="937" font-size="10" fill="#000" textLength="47" lengthAdjust="spacingAndGlyphs" font-family="'Liberation Sans', 'Noto Sans CJK SC', sans-serif">5 Mar 2021</text>
<rect x="1410" y="925" width="1" height="3" fill="#000"/>
<text x="1409.5" y="937" font-size="10" fill="#000" textLength="52" lengthAdjust="spacingAndGlyphs" font-family="'Liberation Sans', 'Noto Sans CJK SC', sans-serif">17 Mar 2021</text>
<defs>
<linearGradient id="gTab" x1="0" y1="0" x2="0" y2="1"><stop offset="0" stop-color="#ff5c5c"/><stop offset="1" stop-color="#e02c2c"/></linearGradient>
<linearGradient id="gLow" x1="0" y1="0" x2="0" y2="1"><stop offset="0" stop-color="#dc2a2a"/><stop offset="1" stop-color="#b50000"/></linearGradient>
<linearGradient id="gBtn" x1="0" y1="0" x2="0" y2="1"><stop offset="0" stop-color="#f6f6f6"/><stop offset="0.45" stop-color="#e6e6e6"/><stop offset="0.5" stop-color="#d8d8d8"/><stop offset="1" stop-color="#d0d0d0"/></linearGradient>
</defs>
<rect x="5" y="43" width="53" height="25" fill="#c80000"/>
<rect x="6" y="44" width="51" height="24" fill="url(#gTab)"/>
<rect x="5" y="67" width="109" height="40" fill="#c00000"/>
<rect x="6" y="67" width="107" height="39" fill="url(#gLow)"/>
<rect x="6" y="66" width="51" height="2" fill="#e03030"/>
<rect x="9" y="66" width="44" height="1" fill="#7a0000"/><rect x="9" y="67" width="44" height="1" fill="#f07070"/>
<text x="17.6" y="58.8" font-size="12" fill="#fff" textLength="25.2" lengthAdjust="spacingAndGlyphs" font-family="'Liberation Sans', sans-serif">SELL</text>
<text x="21" y="98" font-size="12.6" font-weight="bold" fill="#fff" textLength="34.4" lengthAdjust="spacingAndGlyphs" font-family="'Liberation Sans', sans-serif">29359</text>
<rect x="60.5" y="94.5" width="4" height="3.5" fill="#fff"/>
<text x="67.3" y="98" font-size="33" fill="#fff" textLength="15" lengthAdjust="spacingAndGlyphs" font-family="'Liberation Sans', sans-serif">5</text>
<rect x="172" y="43" width="52" height="25" fill="#c80000"/>
<rect x="173" y="44" width="50" height="24" fill="url(#gTab)"/>
<rect x="116" y="67" width="108" height="40" fill="#c00000"/>
<rect x="117" y="67" width="106" height="39" fill="url(#gLow)"/>
<rect x="173" y="66" width="50" height="2" fill="#e03030"/>
<rect x="176" y="66" width="44" height="1" fill="#7a0000"/><rect x="176" y="67" width="44" height="1" fill="#f07070"/>
<text x="185.7" y="58.8" font-size="12" fill="#fff" textLength="22.9" lengthAdjust="spacingAndGlyphs" font-family="'Liberation Sans', sans-serif">BUY</text>
<text x="131.3" y="98" font-size="12.6" font-weight="bold" fill="#fff" textLength="34.5" lengthAdjust="spacingAndGlyphs" font-family="'Liberation Sans', sans-serif">29374</text>
<rect x="171.5" y="94.5" width="4" height="3.5" fill="#fff"/>
<text x="178.5" y="98" font-size="33" fill="#fff" textLength="15" lengthAdjust="spacingAndGlyphs" font-family="'Liberation Sans', sans-serif">5</text>
<rect x="59.5" y="43.5" width="110" height="21" fill="#fff" stroke="#a8acb4" stroke-width="1"/>
<rect x="60" y="44" width="20" height="20" fill="url(#gBtn)"/><rect x="80" y="44" width="1" height="20" fill="#a8acb4"/>
<rect x="149" y="44" width="20" height="20" fill="url(#gBtn)"/><rect x="148" y="44" width="1" height="20" fill="#a8acb4"/>
<polygon points="67,52 73,52 70,55" fill="#4a5ac8"/>
<polygon points="156,55 161.5,55 158.75,52" fill="#4a5ac8"/>
<text x="121.8" y="58" font-size="12.5" fill="#000" textLength="23" lengthAdjust="spacingAndGlyphs" font-family="'Liberation Sans', sans-serif">1.00</text>
</svg>
</body></html>
